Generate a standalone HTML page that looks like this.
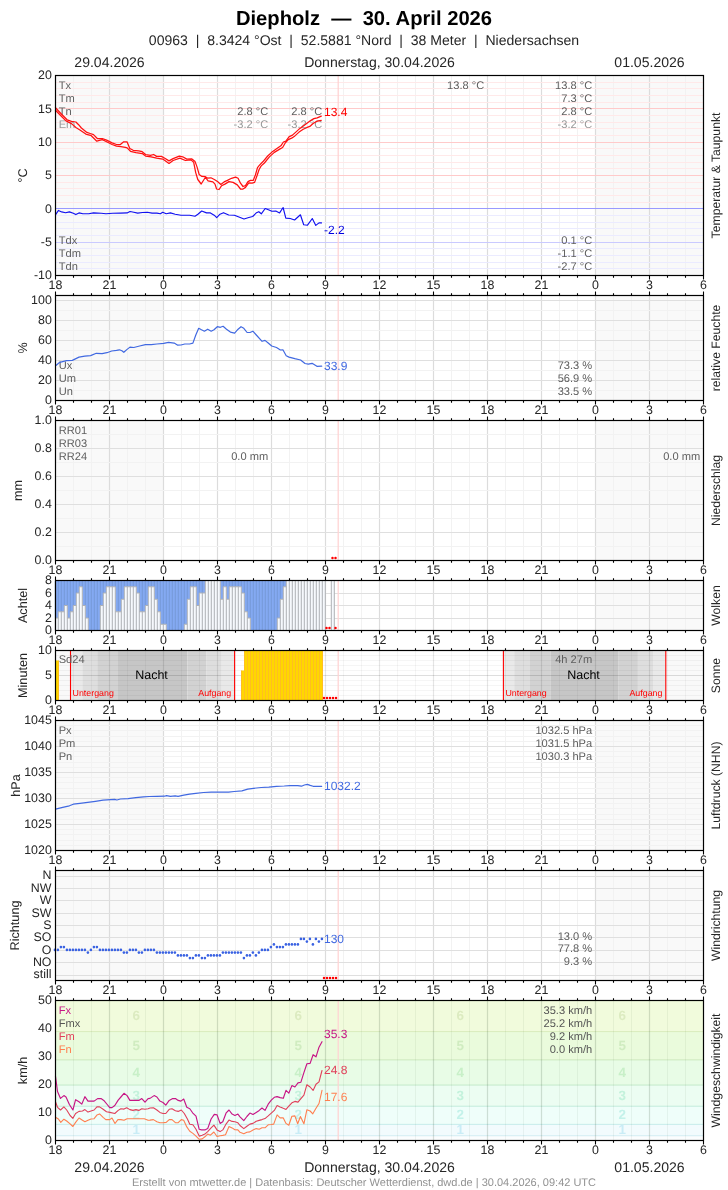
<!DOCTYPE html>
<html lang="de"><head><meta charset="utf-8"><title>Diepholz - 30. April 2026</title>
<style>html,body{margin:0;padding:0;background:#fff}body{width:728px;height:1190px;overflow:hidden;font-family:"Liberation Sans",sans-serif}svg{display:block;will-change:transform}</style>
</head><body>
<svg width="728" height="1190" viewBox="0 0 728 1190" font-family="Liberation Sans, sans-serif" text-rendering="geometricPrecision">
<rect width="728" height="1190" fill="#fff"/>
<text x="364.00" y="24.80" font-size="20.2" fill="#000" text-anchor="middle" font-weight="bold">Diepholz&#160;&#160;&#8212;&#160;&#160;30. April 2026</text>
<text x="364.00" y="45.20" font-size="14.05" fill="#262626" text-anchor="middle">00963&#160;&#160;|&#160;&#160;8.3424 &#176;Ost&#160;&#160;|&#160;&#160;52.5881 &#176;Nord&#160;&#160;|&#160;&#160;38 Meter&#160;&#160;|&#160;&#160;Niedersachsen</text>
<text x="109.50" y="67.00" font-size="14.05" fill="#262626" text-anchor="middle">29.04.2026</text>
<text x="379.50" y="67.00" font-size="14.05" fill="#262626" text-anchor="middle">Donnerstag, 30.04.2026</text>
<text x="649.50" y="67.00" font-size="14.05" fill="#262626" text-anchor="middle">01.05.2026</text>
<text x="109.50" y="1171.50" font-size="14.05" fill="#262626" text-anchor="middle">29.04.2026</text>
<text x="379.50" y="1171.50" font-size="14.05" fill="#262626" text-anchor="middle">Donnerstag, 30.04.2026</text>
<text x="649.50" y="1171.50" font-size="14.05" fill="#262626" text-anchor="middle">01.05.2026</text>
<text x="364.00" y="1185.80" font-size="11" fill="#929292" text-anchor="middle">Erstellt von mtwetter.de | Datenbasis: Deutscher Wetterdienst, dwd.de | 30.04.2026, 09:42 UTC</text>
<rect x="56" y="76" width="647" height="199" fill="#fff"/>
<rect x="56" y="76" width="107.5" height="199" fill="#f9f9f9"/>
<rect x="595.5" y="76" width="107.5" height="199" fill="#f9f9f9"/>
<path d="M73.5 76V275M91.5 76V275M127.5 76V275M145.5 76V275M181.5 76V275M199.5 76V275M235.5 76V275M253.5 76V275M289.5 76V275M307.5 76V275M343.5 76V275M361.5 76V275M397.5 76V275M415.5 76V275M451.5 76V275M469.5 76V275M505.5 76V275M523.5 76V275M559.5 76V275M577.5 76V275M613.5 76V275M631.5 76V275M667.5 76V275M685.5 76V275" stroke="#f2f2f2" stroke-width="1" stroke-opacity="1" fill="none"/>
<path d="M109.5 76V275M163.5 76V275M217.5 76V275M271.5 76V275M325.5 76V275M379.5 76V275M433.5 76V275M487.5 76V275M541.5 76V275M595.5 76V275M649.5 76V275" stroke="#dcdcdc" stroke-width="1.2" stroke-opacity="1" fill="none"/>
<path d="M56 202.5H703M56 195.5H703M56 188.5H703M56 182.5H703M56 168.5H703M56 162.5H703M56 155.5H703M56 148.5H703M56 135.5H703M56 128.5H703M56 122.5H703M56 115.5H703M56 102.5H703M56 95.5H703M56 88.5H703M56 82.5H703" stroke="#ffe9e9" stroke-width="1" stroke-opacity="1" fill="none"/>
<path d="M56 175.5H703M56 142.5H703M56 108.5H703" stroke="#ffcaca" stroke-width="1" stroke-opacity="1" fill="none"/>
<path d="M56 268.5H703M56 262.5H703M56 255.5H703M56 248.5H703M56 235.5H703M56 228.5H703M56 222.5H703M56 215.5H703" stroke="#ebebff" stroke-width="1" stroke-opacity="1" fill="none"/>
<path d="M56 242.5H703" stroke="#cacaff" stroke-width="1" stroke-opacity="1" fill="none"/>
<path d="M56 208.5H703" stroke="#9999ff" stroke-width="1" stroke-opacity="1" fill="none"/>
<path d="M338.2 76V275" stroke="#ffd2d2" stroke-width="1.25" fill="none"/>
<text x="58.70" y="88.70" font-size="11.1" fill="#5e5e5e" text-anchor="start">Tx</text>
<text x="58.70" y="101.70" font-size="11.1" fill="#5e5e5e" text-anchor="start">Tm</text>
<text x="58.70" y="114.70" font-size="11.1" fill="#5e5e5e" text-anchor="start">Tn</text>
<text x="58.70" y="127.70" font-size="11.1" fill="#999" text-anchor="start">Em</text>
<text x="58.70" y="243.70" font-size="11.1" fill="#5e5e5e" text-anchor="start">Tdx</text>
<text x="58.70" y="256.70" font-size="11.1" fill="#5e5e5e" text-anchor="start">Tdm</text>
<text x="58.70" y="269.70" font-size="11.1" fill="#5e5e5e" text-anchor="start">Tdn</text>
<text x="592.20" y="88.70" font-size="11.1" fill="#5e5e5e" text-anchor="end">13.8 &#176;C</text>
<text x="592.20" y="101.70" font-size="11.1" fill="#5e5e5e" text-anchor="end">7.3 &#176;C</text>
<text x="592.20" y="114.70" font-size="11.1" fill="#5e5e5e" text-anchor="end">2.8 &#176;C</text>
<text x="592.20" y="127.70" font-size="11.1" fill="#999" text-anchor="end">-3.2 &#176;C</text>
<text x="592.20" y="243.70" font-size="11.1" fill="#5e5e5e" text-anchor="end">0.1 &#176;C</text>
<text x="592.20" y="256.70" font-size="11.1" fill="#5e5e5e" text-anchor="end">-1.1 &#176;C</text>
<text x="592.20" y="269.70" font-size="11.1" fill="#5e5e5e" text-anchor="end">-2.7 &#176;C</text>
<text x="484.20" y="88.70" font-size="11.1" fill="#5e5e5e" text-anchor="end">13.8 &#176;C</text>
<text x="268.20" y="114.70" font-size="11.1" fill="#5e5e5e" text-anchor="end">2.8 &#176;C</text>
<text x="268.20" y="127.70" font-size="11.1" fill="#999" text-anchor="end">-3.2 &#176;C</text>
<text x="322.20" y="114.70" font-size="11.1" fill="#5e5e5e" text-anchor="end">2.8 &#176;C</text>
<text x="322.20" y="127.70" font-size="11.1" fill="#999" text-anchor="end">-3.2 &#176;C</text>
<path d="M55.5 107.8L61.6 114.3L67.1 119.8L71.5 121.4L75.9 122.0L78.6 124.7L81.4 128.0L86.9 132.4L90.2 133.5L93.5 134.6L97.3 138.5L102.3 138.5L106.6 140.1L112.1 142.9L116.5 144.5L120.4 144.5L123.7 141.8L127.0 141.8L129.8 148.5L133.2 150.3L138.7 150.9L142.2 151.7L145.6 154.5L150.4 155.4L153.6 154.5L156.6 156.4L161.4 156.4L164.8 158.2L169.0 160.9L173.1 158.6L179.3 156.1L182.7 156.8L186.8 159.1L191.6 158.8L195.1 161.6L197.1 167.1L199.2 174.6L201.9 176.4L205.4 176.7L207.4 178.1L210.9 177.8L214.3 179.5L217.5 181.6L220.8 184.4L224.1 181.9L227.4 180.4L231.5 178.3L235.6 177.1L238.1 178.3L240.5 183.2L243.0 186.5L245.5 185.7L248.0 181.6L250.4 180.4L253.2 180.4L255.4 175.0L257.5 167.6L259.5 165.1L262.8 161.8L267.7 156.0L272.7 151.4L277.6 148.1L280.9 145.8L283.4 142.0L285.9 141.2L289.2 136.6L292.5 135.1L295.8 132.1L299.9 128.4L304.0 125.5L307.3 123.1L310.6 120.6L313.9 118.6L317.2 117.8L321.3 116.2" stroke="#ff1010" stroke-width="1.25" stroke-opacity="1" fill="none" stroke-linejoin="round" stroke-linecap="round"/>
<path d="M55.5 110.3L61.6 116.5L66.0 120.9L71.5 123.6L75.9 127.5L80.3 130.2L85.8 134.1L91.3 135.7L96.8 141.2L102.3 139.6L106.6 141.8L112.1 144.5L116.5 146.2L120.9 146.7L125.3 147.3L127.1 147.9L130.5 151.3L136.0 152.7L142.2 153.6L145.6 156.1L151.1 156.8L156.6 158.2L162.8 159.1L169.0 163.4L173.1 160.5L179.9 158.2L185.4 160.5L190.9 159.9L193.7 162.3L195.7 172.6L197.8 179.5L201.2 184.0L204.0 179.5L205.4 177.4L208.1 180.8L212.9 181.9L215.0 184.1L216.6 189.0L219.1 189.5L221.6 185.7L224.9 184.1L229.0 181.6L233.1 182.4L237.3 184.9L240.5 189.0L243.0 189.0L245.5 187.4L248.8 182.9L252.1 183.2L254.6 182.4L257.0 175.8L259.2 169.2L261.2 165.9L264.4 163.0L269.4 156.9L274.3 152.4L279.3 149.4L282.6 147.5L285.1 143.2L288.3 139.6L291.6 138.2L294.9 135.9L299.1 132.1L303.2 129.3L306.5 127.7L309.8 126.4L313.1 123.6L316.4 121.4L321.3 120.3" stroke="#ff1010" stroke-width="1.25" stroke-opacity="1" fill="none" stroke-linejoin="round" stroke-linecap="round"/>
<path d="M55.6 214.6L58.5 210.4L61.7 211.9L65.6 212.7L69.4 211.9L73.3 213.3L75.8 214.6L79.0 212.9L82.9 213.7L88.7 213.7L93.5 212.9L101.2 213.3L106.0 213.8L112.7 213.3L120.4 213.1L127.1 212.9L130.0 211.5L133.8 212.3L137.7 213.1L142.5 212.5L147.3 212.3L152.1 213.1L156.9 213.1L160.4 213.7L162.7 212.3L166.2 213.7L170.4 212.9L175.2 214.2L181.0 215.2L189.6 215.2L195.0 216.2L197.9 214.2L201.7 211.0L206.5 212.9L210.4 212.9L214.2 215.2L216.7 217.7L220.0 214.2L223.5 212.7L228.7 215.0L234.4 215.2L240.2 217.5L244.0 219.0L248.8 217.5L252.7 216.5L256.5 212.7L258.8 211.7L261.3 213.8L265.2 208.5L269.0 210.0L271.9 211.3L275.8 211.0L279.6 212.9L283.1 207.5L285.8 218.1L290.2 218.5L294.6 220.0L300.4 214.8L303.7 224.8L307.5 225.2L312.3 218.5L315.8 225.4L319.0 222.9L321.5 222.9" stroke="#1010f0" stroke-width="1.15" stroke-opacity="1" fill="none" stroke-linejoin="round" stroke-linecap="round"/>
<text x="324.00" y="115.70" font-size="12" fill="#ff0000" text-anchor="start">13.4</text>
<text x="324.00" y="234.40" font-size="12" fill="#0000e0" text-anchor="start">-2.2</text>
<rect x="55.5" y="75.5" width="648" height="200" fill="none" stroke="#000" stroke-width="1.2"/>
<path d="M55.5 275.5v4.0M73.5 275.5v2.2M91.5 275.5v2.2M109.5 275.5v4.0M127.5 275.5v2.2M145.5 275.5v2.2M163.5 275.5v4.0M181.5 275.5v2.2M199.5 275.5v2.2M217.5 275.5v4.0M235.5 275.5v2.2M253.5 275.5v2.2M271.5 275.5v4.0M289.5 275.5v2.2M307.5 275.5v2.2M325.5 275.5v4.0M343.5 275.5v2.2M361.5 275.5v2.2M379.5 275.5v4.0M397.5 275.5v2.2M415.5 275.5v2.2M433.5 275.5v4.0M451.5 275.5v2.2M469.5 275.5v2.2M487.5 275.5v4.0M505.5 275.5v2.2M523.5 275.5v2.2M541.5 275.5v4.0M559.5 275.5v2.2M577.5 275.5v2.2M595.5 275.5v4.0M613.5 275.5v2.2M631.5 275.5v2.2M649.5 275.5v4.0M667.5 275.5v2.2M685.5 275.5v2.2M703.5 275.5v4.0" stroke="#000" stroke-width="1.1" fill="none"/>
<text x="55.50" y="289.20" font-size="12.4" fill="#262626" text-anchor="middle">18</text>
<text x="109.50" y="289.20" font-size="12.4" fill="#262626" text-anchor="middle">21</text>
<text x="163.50" y="289.20" font-size="12.4" fill="#262626" text-anchor="middle">0</text>
<text x="217.50" y="289.20" font-size="12.4" fill="#262626" text-anchor="middle">3</text>
<text x="271.50" y="289.20" font-size="12.4" fill="#262626" text-anchor="middle">6</text>
<text x="325.50" y="289.20" font-size="12.4" fill="#262626" text-anchor="middle">9</text>
<text x="379.50" y="289.20" font-size="12.4" fill="#262626" text-anchor="middle">12</text>
<text x="433.50" y="289.20" font-size="12.4" fill="#262626" text-anchor="middle">15</text>
<text x="487.50" y="289.20" font-size="12.4" fill="#262626" text-anchor="middle">18</text>
<text x="541.50" y="289.20" font-size="12.4" fill="#262626" text-anchor="middle">21</text>
<text x="595.50" y="289.20" font-size="12.4" fill="#262626" text-anchor="middle">0</text>
<text x="649.50" y="289.20" font-size="12.4" fill="#262626" text-anchor="middle">3</text>
<text x="703.50" y="289.20" font-size="12.4" fill="#262626" text-anchor="middle">6</text>
<text x="51.80" y="79.20" font-size="12.4" fill="#262626" text-anchor="end">20</text>
<text x="51.80" y="112.53" font-size="12.4" fill="#262626" text-anchor="end">15</text>
<text x="51.80" y="145.87" font-size="12.4" fill="#262626" text-anchor="end">10</text>
<text x="51.80" y="179.20" font-size="12.4" fill="#262626" text-anchor="end">5</text>
<text x="51.80" y="212.53" font-size="12.4" fill="#262626" text-anchor="end">0</text>
<text x="51.80" y="245.87" font-size="12.4" fill="#262626" text-anchor="end">-5</text>
<text x="51.80" y="279.20" font-size="12.4" fill="#262626" text-anchor="end">-10</text>
<text transform="translate(27.20,175.50) rotate(-90)" font-size="12.64" fill="#262626" text-anchor="middle">&#176;C</text>
<text transform="translate(719.60,175.50) rotate(-90)" font-size="12.2" fill="#262626" text-anchor="middle">Temperatur &amp; Taupunkt</text>
<rect x="56" y="296" width="647" height="104" fill="#fff"/>
<rect x="56" y="296" width="107.5" height="104" fill="#f9f9f9"/>
<rect x="595.5" y="296" width="107.5" height="104" fill="#f9f9f9"/>
<path d="M73.5 296V400M91.5 296V400M127.5 296V400M145.5 296V400M181.5 296V400M199.5 296V400M235.5 296V400M253.5 296V400M289.5 296V400M307.5 296V400M343.5 296V400M361.5 296V400M397.5 296V400M415.5 296V400M451.5 296V400M469.5 296V400M505.5 296V400M523.5 296V400M559.5 296V400M577.5 296V400M613.5 296V400M631.5 296V400M667.5 296V400M685.5 296V400" stroke="#f2f2f2" stroke-width="1" stroke-opacity="1" fill="none"/>
<path d="M109.5 296V400M163.5 296V400M217.5 296V400M271.5 296V400M325.5 296V400M379.5 296V400M433.5 296V400M487.5 296V400M541.5 296V400M595.5 296V400M649.5 296V400" stroke="#dcdcdc" stroke-width="1.2" stroke-opacity="1" fill="none"/>
<path d="M56 390.5H703M56 370.5H703M56 350.5H703M56 330.5H703M56 310.5H703" stroke="#f2f2f2" stroke-width="1" stroke-opacity="1" fill="none"/>
<path d="M56 380.5H703M56 360.5H703M56 340.5H703M56 320.5H703M56 300.5H703" stroke="#dfdfdf" stroke-width="1" stroke-opacity="1" fill="none"/>
<path d="M338.2 296V400" stroke="#ffd2d2" stroke-width="1.25" fill="none"/>
<text x="58.70" y="368.70" font-size="11.1" fill="#5e5e5e" text-anchor="start">Ux</text>
<text x="58.70" y="381.70" font-size="11.1" fill="#5e5e5e" text-anchor="start">Um</text>
<text x="58.70" y="394.70" font-size="11.1" fill="#5e5e5e" text-anchor="start">Un</text>
<text x="592.20" y="368.70" font-size="11.1" fill="#5e5e5e" text-anchor="end">73.3 %</text>
<text x="592.20" y="381.70" font-size="11.1" fill="#5e5e5e" text-anchor="end">56.9 %</text>
<text x="592.20" y="394.70" font-size="11.1" fill="#5e5e5e" text-anchor="end">33.5 %</text>
<path d="M55.6 365.8L59.8 362.3L66.5 360.6L72.3 360.4L79.0 357.1L84.8 356.2L90.6 355.6L96.3 353.3L102.1 353.7L106.9 352.7L111.7 351.0L116.5 350.4L119.4 349.8L121.9 350.8L123.8 352.3L127.1 349.4L130.0 347.1L133.8 347.5L139.6 346.0L145.4 344.6L151.2 344.6L156.9 344.0L163.7 343.3L168.5 342.3L174.2 343.1L177.7 345.2L181.0 345.0L184.8 344.0L189.6 344.0L192.9 343.1L195.8 335.0L198.7 328.3L201.5 329.8L204.4 331.2L207.7 329.2L211.2 331.2L214.0 329.8L217.3 326.7L220.4 327.3L223.1 326.3L226.5 329.2L230.4 332.1L234.6 333.1L238.1 329.2L241.0 326.7L243.8 328.3L247.1 332.5L250.0 332.5L252.9 331.2L256.3 335.0L262.1 341.3L265.0 340.4L267.9 342.7L271.7 346.0L276.5 347.5L280.4 350.0L282.9 349.8L286.2 355.8L289.0 357.1L294.8 358.7L300.6 360.0L305.0 363.5L308.3 364.2L312.1 363.3L316.9 366.3L321.7 366.2" stroke="#4169e1" stroke-width="1.2" stroke-opacity="1" fill="none" stroke-linejoin="round" stroke-linecap="round"/>
<text x="324.00" y="370.30" font-size="12" fill="#4169e1" text-anchor="start">33.9</text>
<rect x="55.5" y="295.5" width="648" height="105" fill="none" stroke="#000" stroke-width="1.2"/>
<path d="M55.5 400.5v4.0M55.5 295.5v-4.0M73.5 400.5v2.2M73.5 295.5v-2.2M91.5 400.5v2.2M91.5 295.5v-2.2M109.5 400.5v4.0M109.5 295.5v-4.0M127.5 400.5v2.2M127.5 295.5v-2.2M145.5 400.5v2.2M145.5 295.5v-2.2M163.5 400.5v4.0M163.5 295.5v-4.0M181.5 400.5v2.2M181.5 295.5v-2.2M199.5 400.5v2.2M199.5 295.5v-2.2M217.5 400.5v4.0M217.5 295.5v-4.0M235.5 400.5v2.2M235.5 295.5v-2.2M253.5 400.5v2.2M253.5 295.5v-2.2M271.5 400.5v4.0M271.5 295.5v-4.0M289.5 400.5v2.2M289.5 295.5v-2.2M307.5 400.5v2.2M307.5 295.5v-2.2M325.5 400.5v4.0M325.5 295.5v-4.0M343.5 400.5v2.2M343.5 295.5v-2.2M361.5 400.5v2.2M361.5 295.5v-2.2M379.5 400.5v4.0M379.5 295.5v-4.0M397.5 400.5v2.2M397.5 295.5v-2.2M415.5 400.5v2.2M415.5 295.5v-2.2M433.5 400.5v4.0M433.5 295.5v-4.0M451.5 400.5v2.2M451.5 295.5v-2.2M469.5 400.5v2.2M469.5 295.5v-2.2M487.5 400.5v4.0M487.5 295.5v-4.0M505.5 400.5v2.2M505.5 295.5v-2.2M523.5 400.5v2.2M523.5 295.5v-2.2M541.5 400.5v4.0M541.5 295.5v-4.0M559.5 400.5v2.2M559.5 295.5v-2.2M577.5 400.5v2.2M577.5 295.5v-2.2M595.5 400.5v4.0M595.5 295.5v-4.0M613.5 400.5v2.2M613.5 295.5v-2.2M631.5 400.5v2.2M631.5 295.5v-2.2M649.5 400.5v4.0M649.5 295.5v-4.0M667.5 400.5v2.2M667.5 295.5v-2.2M685.5 400.5v2.2M685.5 295.5v-2.2M703.5 400.5v4.0M703.5 295.5v-4.0" stroke="#000" stroke-width="1.1" fill="none"/>
<text x="55.50" y="414.20" font-size="12.4" fill="#262626" text-anchor="middle">18</text>
<text x="109.50" y="414.20" font-size="12.4" fill="#262626" text-anchor="middle">21</text>
<text x="163.50" y="414.20" font-size="12.4" fill="#262626" text-anchor="middle">0</text>
<text x="217.50" y="414.20" font-size="12.4" fill="#262626" text-anchor="middle">3</text>
<text x="271.50" y="414.20" font-size="12.4" fill="#262626" text-anchor="middle">6</text>
<text x="325.50" y="414.20" font-size="12.4" fill="#262626" text-anchor="middle">9</text>
<text x="379.50" y="414.20" font-size="12.4" fill="#262626" text-anchor="middle">12</text>
<text x="433.50" y="414.20" font-size="12.4" fill="#262626" text-anchor="middle">15</text>
<text x="487.50" y="414.20" font-size="12.4" fill="#262626" text-anchor="middle">18</text>
<text x="541.50" y="414.20" font-size="12.4" fill="#262626" text-anchor="middle">21</text>
<text x="595.50" y="414.20" font-size="12.4" fill="#262626" text-anchor="middle">0</text>
<text x="649.50" y="414.20" font-size="12.4" fill="#262626" text-anchor="middle">3</text>
<text x="703.50" y="414.20" font-size="12.4" fill="#262626" text-anchor="middle">6</text>
<text x="51.80" y="404.20" font-size="12.4" fill="#262626" text-anchor="end">0</text>
<text x="51.80" y="384.20" font-size="12.4" fill="#262626" text-anchor="end">20</text>
<text x="51.80" y="364.20" font-size="12.4" fill="#262626" text-anchor="end">40</text>
<text x="51.80" y="344.20" font-size="12.4" fill="#262626" text-anchor="end">60</text>
<text x="51.80" y="324.20" font-size="12.4" fill="#262626" text-anchor="end">80</text>
<text x="51.80" y="304.20" font-size="12.4" fill="#262626" text-anchor="end">100</text>
<text transform="translate(27.20,348.00) rotate(-90)" font-size="12.64" fill="#262626" text-anchor="middle">%</text>
<text transform="translate(719.60,348.00) rotate(-90)" font-size="12.2" fill="#262626" text-anchor="middle">relative Feuchte</text>
<rect x="56" y="421" width="647" height="139" fill="#fff"/>
<rect x="56" y="421" width="107.5" height="139" fill="#f9f9f9"/>
<rect x="595.5" y="421" width="107.5" height="139" fill="#f9f9f9"/>
<path d="M73.5 421V560M91.5 421V560M127.5 421V560M145.5 421V560M181.5 421V560M199.5 421V560M235.5 421V560M253.5 421V560M289.5 421V560M307.5 421V560M343.5 421V560M361.5 421V560M397.5 421V560M415.5 421V560M451.5 421V560M469.5 421V560M505.5 421V560M523.5 421V560M559.5 421V560M577.5 421V560M613.5 421V560M631.5 421V560M667.5 421V560M685.5 421V560" stroke="#f2f2f2" stroke-width="1" stroke-opacity="1" fill="none"/>
<path d="M109.5 421V560M163.5 421V560M217.5 421V560M271.5 421V560M325.5 421V560M379.5 421V560M433.5 421V560M487.5 421V560M541.5 421V560M595.5 421V560M649.5 421V560" stroke="#dcdcdc" stroke-width="1.2" stroke-opacity="1" fill="none"/>
<path d="M56 546.5H703M56 518.5H703M56 490.5H703M56 462.5H703M56 434.5H703" stroke="#f2f2f2" stroke-width="1" stroke-opacity="1" fill="none"/>
<path d="M56 532.5H703M56 504.5H703M56 476.5H703M56 448.5H703" stroke="#dfdfdf" stroke-width="1" stroke-opacity="1" fill="none"/>
<path d="M338.2 421V560" stroke="#ffd2d2" stroke-width="1.25" fill="none"/>
<text x="58.70" y="433.70" font-size="11.1" fill="#5e5e5e" text-anchor="start">RR01</text>
<text x="58.70" y="446.70" font-size="11.1" fill="#5e5e5e" text-anchor="start">RR03</text>
<text x="58.70" y="459.70" font-size="11.1" fill="#5e5e5e" text-anchor="start">RR24</text>
<text x="268.20" y="459.70" font-size="11.1" fill="#5e5e5e" text-anchor="end">0.0 mm</text>
<text x="700.20" y="459.70" font-size="11.1" fill="#5e5e5e" text-anchor="end">0.0 mm</text>
<circle cx="332.5" cy="558" r="1.25" fill="#ff0000"/>
<circle cx="335.5" cy="558" r="1.25" fill="#ff0000"/>
<rect x="55.5" y="420.5" width="648" height="140" fill="none" stroke="#000" stroke-width="1.2"/>
<path d="M55.5 560.5v4.0M55.5 420.5v-4.0M73.5 560.5v2.2M73.5 420.5v-2.2M91.5 560.5v2.2M91.5 420.5v-2.2M109.5 560.5v4.0M109.5 420.5v-4.0M127.5 560.5v2.2M127.5 420.5v-2.2M145.5 560.5v2.2M145.5 420.5v-2.2M163.5 560.5v4.0M163.5 420.5v-4.0M181.5 560.5v2.2M181.5 420.5v-2.2M199.5 560.5v2.2M199.5 420.5v-2.2M217.5 560.5v4.0M217.5 420.5v-4.0M235.5 560.5v2.2M235.5 420.5v-2.2M253.5 560.5v2.2M253.5 420.5v-2.2M271.5 560.5v4.0M271.5 420.5v-4.0M289.5 560.5v2.2M289.5 420.5v-2.2M307.5 560.5v2.2M307.5 420.5v-2.2M325.5 560.5v4.0M325.5 420.5v-4.0M343.5 560.5v2.2M343.5 420.5v-2.2M361.5 560.5v2.2M361.5 420.5v-2.2M379.5 560.5v4.0M379.5 420.5v-4.0M397.5 560.5v2.2M397.5 420.5v-2.2M415.5 560.5v2.2M415.5 420.5v-2.2M433.5 560.5v4.0M433.5 420.5v-4.0M451.5 560.5v2.2M451.5 420.5v-2.2M469.5 560.5v2.2M469.5 420.5v-2.2M487.5 560.5v4.0M487.5 420.5v-4.0M505.5 560.5v2.2M505.5 420.5v-2.2M523.5 560.5v2.2M523.5 420.5v-2.2M541.5 560.5v4.0M541.5 420.5v-4.0M559.5 560.5v2.2M559.5 420.5v-2.2M577.5 560.5v2.2M577.5 420.5v-2.2M595.5 560.5v4.0M595.5 420.5v-4.0M613.5 560.5v2.2M613.5 420.5v-2.2M631.5 560.5v2.2M631.5 420.5v-2.2M649.5 560.5v4.0M649.5 420.5v-4.0M667.5 560.5v2.2M667.5 420.5v-2.2M685.5 560.5v2.2M685.5 420.5v-2.2M703.5 560.5v4.0M703.5 420.5v-4.0" stroke="#000" stroke-width="1.1" fill="none"/>
<text x="55.50" y="574.20" font-size="12.4" fill="#262626" text-anchor="middle">18</text>
<text x="109.50" y="574.20" font-size="12.4" fill="#262626" text-anchor="middle">21</text>
<text x="163.50" y="574.20" font-size="12.4" fill="#262626" text-anchor="middle">0</text>
<text x="217.50" y="574.20" font-size="12.4" fill="#262626" text-anchor="middle">3</text>
<text x="271.50" y="574.20" font-size="12.4" fill="#262626" text-anchor="middle">6</text>
<text x="325.50" y="574.20" font-size="12.4" fill="#262626" text-anchor="middle">9</text>
<text x="379.50" y="574.20" font-size="12.4" fill="#262626" text-anchor="middle">12</text>
<text x="433.50" y="574.20" font-size="12.4" fill="#262626" text-anchor="middle">15</text>
<text x="487.50" y="574.20" font-size="12.4" fill="#262626" text-anchor="middle">18</text>
<text x="541.50" y="574.20" font-size="12.4" fill="#262626" text-anchor="middle">21</text>
<text x="595.50" y="574.20" font-size="12.4" fill="#262626" text-anchor="middle">0</text>
<text x="649.50" y="574.20" font-size="12.4" fill="#262626" text-anchor="middle">3</text>
<text x="703.50" y="574.20" font-size="12.4" fill="#262626" text-anchor="middle">6</text>
<text x="51.80" y="564.20" font-size="12.4" fill="#262626" text-anchor="end">0.0</text>
<text x="51.80" y="536.20" font-size="12.4" fill="#262626" text-anchor="end">0.2</text>
<text x="51.80" y="508.20" font-size="12.4" fill="#262626" text-anchor="end">0.4</text>
<text x="51.80" y="480.20" font-size="12.4" fill="#262626" text-anchor="end">0.6</text>
<text x="51.80" y="452.20" font-size="12.4" fill="#262626" text-anchor="end">0.8</text>
<text x="51.80" y="424.20" font-size="12.4" fill="#262626" text-anchor="end">1.0</text>
<text transform="translate(21.80,490.50) rotate(-90)" font-size="12.64" fill="#262626" text-anchor="middle">mm</text>
<text transform="translate(719.60,490.50) rotate(-90)" font-size="12.2" fill="#262626" text-anchor="middle">Niederschlag</text>
<rect x="56" y="581" width="647" height="49" fill="#fff"/>
<rect x="56" y="581" width="107.5" height="49" fill="#f9f9f9"/>
<rect x="595.5" y="581" width="107.5" height="49" fill="#f9f9f9"/>
<path d="M73.5 581V630M91.5 581V630M127.5 581V630M145.5 581V630M181.5 581V630M199.5 581V630M235.5 581V630M253.5 581V630M289.5 581V630M307.5 581V630M343.5 581V630M361.5 581V630M397.5 581V630M415.5 581V630M451.5 581V630M469.5 581V630M505.5 581V630M523.5 581V630M559.5 581V630M577.5 581V630M613.5 581V630M631.5 581V630M667.5 581V630M685.5 581V630" stroke="#f2f2f2" stroke-width="1" stroke-opacity="1" fill="none"/>
<path d="M109.5 581V630M163.5 581V630M217.5 581V630M271.5 581V630M325.5 581V630M379.5 581V630M433.5 581V630M487.5 581V630M541.5 581V630M595.5 581V630M649.5 581V630" stroke="#dcdcdc" stroke-width="1.2" stroke-opacity="1" fill="none"/>
<path d="M56 618.5H703M56 605.5H703M56 593.5H703" stroke="#dfdfdf" stroke-width="1" stroke-opacity="1" fill="none"/>
<path d="M338.2 581V630" stroke="#ffd2d2" stroke-width="1.25" fill="none"/>
<path d="M55.3 581H58.3V618.00H55.3zM58.3 581H61.3V611.75H58.3zM61.3 581H64.3V611.75H61.3zM64.3 581H67.3V605.50H64.3zM67.3 581H70.3V618.00H67.3zM70.3 581H73.3V611.75H70.3zM73.3 581H76.3V605.50H73.3zM76.3 581H79.3V593.00H76.3zM79.3 581H82.3V586.75H79.3zM82.3 581H85.3V605.50H82.3zM85.3 581H88.3V618.00H85.3zM88.3 581H91.3V630.50H88.3zM91.3 581H94.3V630.50H91.3zM94.3 581H97.3V630.50H94.3zM97.3 581H100.3V630.50H97.3zM100.3 581H103.3V605.50H100.3zM103.3 581H106.3V593.00H103.3zM106.3 581H109.3V586.75H106.3zM109.3 581H112.3V586.75H109.3zM112.3 581H115.3V586.75H112.3zM115.3 581H118.3V611.75H115.3zM118.3 581H121.3V611.75H118.3zM121.3 581H124.3V599.25H121.3zM124.3 581H127.3V586.75H124.3zM127.3 581H130.3V586.75H127.3zM130.3 581H133.3V586.75H130.3zM133.3 581H136.3V586.75H133.3zM136.3 581H139.3V593.00H136.3zM139.3 581H142.3V611.75H139.3zM142.3 581H145.3V611.75H142.3zM145.3 581H148.3V605.50H145.3zM148.3 581H151.3V586.75H148.3zM151.3 581H154.3V586.75H151.3zM154.3 581H157.3V599.25H154.3zM157.3 581H160.3V611.75H157.3zM160.3 581H163.3V624.25H160.3zM163.3 581H166.3V624.25H163.3zM166.3 581H169.3V630.50H166.3zM169.3 581H172.3V630.50H169.3zM172.3 581H175.3V630.50H172.3zM175.3 581H178.3V630.50H175.3zM178.3 581H181.3V630.50H178.3zM181.3 581H184.3V630.50H181.3zM184.3 581H187.3V624.25H184.3zM187.3 581H190.3V599.25H187.3zM190.3 581H193.3V586.75H190.3zM193.3 581H196.3V586.75H193.3zM196.3 581H199.3V605.50H196.3zM199.3 581H202.3V593.00H199.3zM202.3 581H205.3V593.00H202.3zM220.3 581H223.3V599.25H220.3zM223.3 581H226.3V586.75H223.3zM226.3 581H229.3V599.25H226.3zM229.3 581H232.3V586.75H229.3zM232.3 581H235.3V586.75H232.3zM235.3 581H238.3V586.75H235.3zM238.3 581H241.3V586.75H238.3zM241.3 581H244.3V593.00H241.3zM244.3 581H247.3V611.75H244.3zM247.3 581H250.3V618.00H247.3zM250.3 581H253.3V630.50H250.3zM253.3 581H256.3V630.50H253.3zM256.3 581H259.3V630.50H256.3zM259.3 581H262.3V630.50H259.3zM262.3 581H265.3V630.50H262.3zM265.3 581H268.3V630.50H265.3zM268.3 581H271.3V630.50H268.3zM271.3 581H274.3V630.50H271.3zM274.3 581H277.3V630.50H274.3zM277.3 581H280.3V618.00H277.3zM280.3 581H283.3V599.25H280.3zM283.3 581H286.3V586.75H283.3z" fill="#84a9f2"/>
<path d="M55.3 618.00H58.3V630H55.3zM58.3 611.75H61.3V630H58.3zM61.3 611.75H64.3V630H61.3zM64.3 605.50H67.3V630H64.3zM67.3 618.00H70.3V630H67.3zM70.3 611.75H73.3V630H70.3zM73.3 605.50H76.3V630H73.3zM76.3 593.00H79.3V630H76.3zM79.3 586.75H82.3V630H79.3zM82.3 605.50H85.3V630H82.3zM85.3 618.00H88.3V630H85.3zM100.3 605.50H103.3V630H100.3zM103.3 593.00H106.3V630H103.3zM106.3 586.75H109.3V630H106.3zM109.3 586.75H112.3V630H109.3zM112.3 586.75H115.3V630H112.3zM115.3 611.75H118.3V630H115.3zM118.3 611.75H121.3V630H118.3zM121.3 599.25H124.3V630H121.3zM124.3 586.75H127.3V630H124.3zM127.3 586.75H130.3V630H127.3zM130.3 586.75H133.3V630H130.3zM133.3 586.75H136.3V630H133.3zM136.3 593.00H139.3V630H136.3zM139.3 611.75H142.3V630H139.3zM142.3 611.75H145.3V630H142.3zM145.3 605.50H148.3V630H145.3zM148.3 586.75H151.3V630H148.3zM151.3 586.75H154.3V630H151.3zM154.3 599.25H157.3V630H154.3zM157.3 611.75H160.3V630H157.3zM160.3 624.25H163.3V630H160.3zM163.3 624.25H166.3V630H163.3zM184.3 624.25H187.3V630H184.3zM187.3 599.25H190.3V630H187.3zM190.3 586.75H193.3V630H190.3zM193.3 586.75H196.3V630H193.3zM196.3 605.50H199.3V630H196.3zM199.3 593.00H202.3V630H199.3zM202.3 593.00H205.3V630H202.3zM205.3 580.50H208.3V630H205.3zM208.3 580.50H211.3V630H208.3zM211.3 580.50H214.3V630H211.3zM214.3 580.50H217.3V630H214.3zM217.3 580.50H220.3V630H217.3zM220.3 599.25H223.3V630H220.3zM223.3 586.75H226.3V630H223.3zM226.3 599.25H229.3V630H226.3zM229.3 586.75H232.3V630H229.3zM232.3 586.75H235.3V630H232.3zM235.3 586.75H238.3V630H235.3zM238.3 586.75H241.3V630H238.3zM241.3 593.00H244.3V630H241.3zM244.3 611.75H247.3V630H244.3zM247.3 618.00H250.3V630H247.3zM277.3 618.00H280.3V630H277.3zM280.3 599.25H283.3V630H280.3zM283.3 586.75H286.3V630H283.3zM286.3 580.50H289.3V630H286.3zM289.3 580.50H292.3V630H289.3zM292.3 580.50H295.3V630H292.3zM295.3 580.50H298.3V630H295.3zM298.3 580.50H301.3V630H298.3zM301.3 580.50H304.3V630H301.3zM304.3 580.50H307.3V630H304.3zM307.3 580.50H310.3V630H307.3zM310.3 580.50H313.3V630H310.3zM313.3 580.50H316.3V630H313.3zM316.3 580.50H319.3V630H316.3zM319.3 580.50H322.3V630H319.3zM322.3 580.50H325.3V630H322.3zM331.3 580.50H334.3V630H331.3z" fill="#f6f9fd"/>
<path d="M55.3 581V618.00M58.3 581V611.75M61.3 581V611.75M64.3 581V605.50M67.3 581V605.50M70.3 581V611.75M73.3 581V605.50M76.3 581V593.00M79.3 581V586.75M82.3 581V586.75M85.3 581V605.50M88.3 581V618.00M91.3 581V630.50M94.3 581V630.50M97.3 581V630.50M100.3 581V605.50M103.3 581V593.00M106.3 581V586.75M109.3 581V586.75M112.3 581V586.75M115.3 581V586.75M118.3 581V611.75M121.3 581V599.25M124.3 581V586.75M127.3 581V586.75M130.3 581V586.75M133.3 581V586.75M136.3 581V586.75M139.3 581V593.00M142.3 581V611.75M145.3 581V605.50M148.3 581V586.75M151.3 581V586.75M154.3 581V586.75M157.3 581V599.25M160.3 581V611.75M163.3 581V624.25M166.3 581V624.25M169.3 581V630.50M172.3 581V630.50M175.3 581V630.50M178.3 581V630.50M181.3 581V630.50M184.3 581V624.25M187.3 581V599.25M190.3 581V586.75M193.3 581V586.75M196.3 581V586.75M199.3 581V593.00M202.3 581V593.00M223.3 581V586.75M226.3 581V586.75M229.3 581V586.75M232.3 581V586.75M235.3 581V586.75M238.3 581V586.75M241.3 581V586.75M244.3 581V593.00M247.3 581V611.75M250.3 581V618.00M253.3 581V630.50M256.3 581V630.50M259.3 581V630.50M262.3 581V630.50M265.3 581V630.50M268.3 581V630.50M271.3 581V630.50M274.3 581V630.50M277.3 581V618.00M280.3 581V599.25M283.3 581V586.75" stroke="#7699d8" stroke-width="1" fill="none"/>
<path d="M55.3 618.00V630M58.3 611.75V630M61.3 611.75V630M64.3 605.50V630M67.3 605.50V630M70.3 611.75V630M73.3 605.50V630M76.3 593.00V630M79.3 586.75V630M82.3 586.75V630M85.3 605.50V630M88.3 618.00V630M100.3 605.50V630M103.3 593.00V630M106.3 586.75V630M109.3 586.75V630M112.3 586.75V630M115.3 586.75V630M118.3 611.75V630M121.3 599.25V630M124.3 586.75V630M127.3 586.75V630M130.3 586.75V630M133.3 586.75V630M136.3 586.75V630M139.3 593.00V630M142.3 611.75V630M145.3 605.50V630M148.3 586.75V630M151.3 586.75V630M154.3 586.75V630M157.3 599.25V630M160.3 611.75V630M163.3 624.25V630M166.3 624.25V630M184.3 624.25V630M187.3 599.25V630M190.3 586.75V630M193.3 586.75V630M196.3 586.75V630M199.3 593.00V630M202.3 593.00V630M205.3 580.50V630M208.3 580.50V630M211.3 580.50V630M214.3 580.50V630M217.3 580.50V630M220.3 580.50V630M223.3 586.75V630M226.3 586.75V630M229.3 586.75V630M232.3 586.75V630M235.3 586.75V630M238.3 586.75V630M241.3 586.75V630M244.3 593.00V630M247.3 611.75V630M250.3 618.00V630M277.3 618.00V630M280.3 599.25V630M283.3 586.75V630M286.3 580.50V630M289.3 580.50V630M292.3 580.50V630M295.3 580.50V630M298.3 580.50V630M301.3 580.50V630M304.3 580.50V630M307.3 580.50V630M310.3 580.50V630M313.3 580.50V630M316.3 580.50V630M319.3 580.50V630M322.3 580.50V630M325.3 580.50V630M331.3 580.50V630M334.3 580.50V630M55.3 618.00H58.3M58.3 611.75H61.3M61.3 611.75H64.3M64.3 605.50H67.3M67.3 618.00H70.3M70.3 611.75H73.3M73.3 605.50H76.3M76.3 593.00H79.3M79.3 586.75H82.3M82.3 605.50H85.3M85.3 618.00H88.3M100.3 605.50H103.3M103.3 593.00H106.3M106.3 586.75H109.3M109.3 586.75H112.3M112.3 586.75H115.3M115.3 611.75H118.3M118.3 611.75H121.3M121.3 599.25H124.3M124.3 586.75H127.3M127.3 586.75H130.3M130.3 586.75H133.3M133.3 586.75H136.3M136.3 593.00H139.3M139.3 611.75H142.3M142.3 611.75H145.3M145.3 605.50H148.3M148.3 586.75H151.3M151.3 586.75H154.3M154.3 599.25H157.3M157.3 611.75H160.3M160.3 624.25H163.3M163.3 624.25H166.3M184.3 624.25H187.3M187.3 599.25H190.3M190.3 586.75H193.3M193.3 586.75H196.3M196.3 605.50H199.3M199.3 593.00H202.3M202.3 593.00H205.3M205.3 580.50H208.3M208.3 580.50H211.3M211.3 580.50H214.3M214.3 580.50H217.3M217.3 580.50H220.3M220.3 599.25H223.3M223.3 586.75H226.3M226.3 599.25H229.3M229.3 586.75H232.3M232.3 586.75H235.3M235.3 586.75H238.3M238.3 586.75H241.3M241.3 593.00H244.3M244.3 611.75H247.3M247.3 618.00H250.3M277.3 618.00H280.3M280.3 599.25H283.3M283.3 586.75H286.3M286.3 580.50H289.3M289.3 580.50H292.3M292.3 580.50H295.3M295.3 580.50H298.3M298.3 580.50H301.3M301.3 580.50H304.3M304.3 580.50H307.3M307.3 580.50H310.3M310.3 580.50H313.3M313.3 580.50H316.3M316.3 580.50H319.3M319.3 580.50H322.3M322.3 580.50H325.3M331.3 580.50H334.3" stroke="#aeb1b5" stroke-width="1" fill="none"/>
<circle cx="326.5" cy="628" r="1.25" fill="#ff0000"/>
<circle cx="329.5" cy="628" r="1.25" fill="#ff0000"/>
<circle cx="335.5" cy="628" r="1.25" fill="#ff0000"/>
<rect x="55.5" y="580.5" width="648" height="50" fill="none" stroke="#000" stroke-width="1.2"/>
<path d="M55.5 630.5v4.0M55.5 580.5v-4.0M73.5 630.5v2.2M73.5 580.5v-2.2M91.5 630.5v2.2M91.5 580.5v-2.2M109.5 630.5v4.0M109.5 580.5v-4.0M127.5 630.5v2.2M127.5 580.5v-2.2M145.5 630.5v2.2M145.5 580.5v-2.2M163.5 630.5v4.0M163.5 580.5v-4.0M181.5 630.5v2.2M181.5 580.5v-2.2M199.5 630.5v2.2M199.5 580.5v-2.2M217.5 630.5v4.0M217.5 580.5v-4.0M235.5 630.5v2.2M235.5 580.5v-2.2M253.5 630.5v2.2M253.5 580.5v-2.2M271.5 630.5v4.0M271.5 580.5v-4.0M289.5 630.5v2.2M289.5 580.5v-2.2M307.5 630.5v2.2M307.5 580.5v-2.2M325.5 630.5v4.0M325.5 580.5v-4.0M343.5 630.5v2.2M343.5 580.5v-2.2M361.5 630.5v2.2M361.5 580.5v-2.2M379.5 630.5v4.0M379.5 580.5v-4.0M397.5 630.5v2.2M397.5 580.5v-2.2M415.5 630.5v2.2M415.5 580.5v-2.2M433.5 630.5v4.0M433.5 580.5v-4.0M451.5 630.5v2.2M451.5 580.5v-2.2M469.5 630.5v2.2M469.5 580.5v-2.2M487.5 630.5v4.0M487.5 580.5v-4.0M505.5 630.5v2.2M505.5 580.5v-2.2M523.5 630.5v2.2M523.5 580.5v-2.2M541.5 630.5v4.0M541.5 580.5v-4.0M559.5 630.5v2.2M559.5 580.5v-2.2M577.5 630.5v2.2M577.5 580.5v-2.2M595.5 630.5v4.0M595.5 580.5v-4.0M613.5 630.5v2.2M613.5 580.5v-2.2M631.5 630.5v2.2M631.5 580.5v-2.2M649.5 630.5v4.0M649.5 580.5v-4.0M667.5 630.5v2.2M667.5 580.5v-2.2M685.5 630.5v2.2M685.5 580.5v-2.2M703.5 630.5v4.0M703.5 580.5v-4.0" stroke="#000" stroke-width="1.1" fill="none"/>
<text x="55.50" y="644.20" font-size="12.4" fill="#262626" text-anchor="middle">18</text>
<text x="109.50" y="644.20" font-size="12.4" fill="#262626" text-anchor="middle">21</text>
<text x="163.50" y="644.20" font-size="12.4" fill="#262626" text-anchor="middle">0</text>
<text x="217.50" y="644.20" font-size="12.4" fill="#262626" text-anchor="middle">3</text>
<text x="271.50" y="644.20" font-size="12.4" fill="#262626" text-anchor="middle">6</text>
<text x="325.50" y="644.20" font-size="12.4" fill="#262626" text-anchor="middle">9</text>
<text x="379.50" y="644.20" font-size="12.4" fill="#262626" text-anchor="middle">12</text>
<text x="433.50" y="644.20" font-size="12.4" fill="#262626" text-anchor="middle">15</text>
<text x="487.50" y="644.20" font-size="12.4" fill="#262626" text-anchor="middle">18</text>
<text x="541.50" y="644.20" font-size="12.4" fill="#262626" text-anchor="middle">21</text>
<text x="595.50" y="644.20" font-size="12.4" fill="#262626" text-anchor="middle">0</text>
<text x="649.50" y="644.20" font-size="12.4" fill="#262626" text-anchor="middle">3</text>
<text x="703.50" y="644.20" font-size="12.4" fill="#262626" text-anchor="middle">6</text>
<text x="51.80" y="634.20" font-size="12.4" fill="#262626" text-anchor="end">0</text>
<text x="51.80" y="621.70" font-size="12.4" fill="#262626" text-anchor="end">2</text>
<text x="51.80" y="609.20" font-size="12.4" fill="#262626" text-anchor="end">4</text>
<text x="51.80" y="596.70" font-size="12.4" fill="#262626" text-anchor="end">6</text>
<text x="51.80" y="584.20" font-size="12.4" fill="#262626" text-anchor="end">8</text>
<text transform="translate(27.20,605.50) rotate(-90)" font-size="12.64" fill="#262626" text-anchor="middle">Achtel</text>
<text transform="translate(719.60,605.50) rotate(-90)" font-size="12.2" fill="#262626" text-anchor="middle">Wolken</text>
<rect x="56" y="651" width="647" height="49" fill="#fff"/>
<rect x="56" y="651" width="107.5" height="49" fill="#f9f9f9"/>
<rect x="595.5" y="651" width="107.5" height="49" fill="#f9f9f9"/>
<rect x="70.5" y="651" width="11.9" height="49" fill="#e9e9e9"/>
<rect x="82.4" y="651" width="14.9" height="49" fill="#dedede"/>
<rect x="97.3" y="651" width="20.0" height="49" fill="#d2d2d2"/>
<rect x="117.3" y="651" width="70.1" height="49" fill="#c6c6c6"/>
<rect x="187.4" y="651" width="19.2" height="49" fill="#d2d2d2"/>
<rect x="206.6" y="651" width="15.1" height="49" fill="#dedede"/>
<rect x="221.7" y="651" width="12.9" height="49" fill="#e9e9e9"/>
<rect x="503.4" y="651" width="10.8" height="49" fill="#e9e9e9"/>
<rect x="514.2" y="651" width="15.8" height="49" fill="#dedede"/>
<rect x="530" y="651" width="20.4" height="49" fill="#d2d2d2"/>
<rect x="550.4" y="651" width="67.8" height="49" fill="#c6c6c6"/>
<rect x="618.2" y="651" width="19.7" height="49" fill="#d2d2d2"/>
<rect x="637.9" y="651" width="15.7" height="49" fill="#dedede"/>
<rect x="653.6" y="651" width="12.2" height="49" fill="#e9e9e9"/>
<path d="M73.5 651V700M91.5 651V700M127.5 651V700M145.5 651V700M181.5 651V700M199.5 651V700M235.5 651V700M253.5 651V700M289.5 651V700M307.5 651V700M343.5 651V700M361.5 651V700M397.5 651V700M415.5 651V700M451.5 651V700M469.5 651V700M505.5 651V700M523.5 651V700M559.5 651V700M577.5 651V700M613.5 651V700M631.5 651V700M667.5 651V700M685.5 651V700" stroke="#000" stroke-width="1" stroke-opacity="0.04" fill="none"/>
<path d="M109.5 651V700M163.5 651V700M217.5 651V700M271.5 651V700M325.5 651V700M379.5 651V700M433.5 651V700M487.5 651V700M541.5 651V700M595.5 651V700M649.5 651V700" stroke="#000" stroke-width="1.2" stroke-opacity="0.1" fill="none"/>
<path d="M56 695.5H703M56 690.5H703M56 685.5H703M56 680.5H703M56 670.5H703M56 665.5H703M56 660.5H703M56 655.5H703" stroke="#000" stroke-width="1" stroke-opacity="0.04" fill="none"/>
<path d="M56 675.5H703" stroke="#000" stroke-width="1" stroke-opacity="0.13" fill="none"/>
<path d="M338.2 651V700" stroke="#ffd2d2" stroke-width="1.25" fill="none"/>
<rect x="55.5" y="660.5" width="3.0" height="40.0" fill="#ffd700"/>
<path d="M55.5 660.5V700M58.5 660.5V700" stroke="#ffbe20" stroke-width="1" fill="none"/>
<rect x="241.5" y="670.5" width="3.0" height="30.0" fill="#ffd700"/>
<path d="M241.5 670.5V700M244.5 670.5V700" stroke="#ffbe20" stroke-width="1" fill="none"/>
<rect x="244.5" y="650.5" width="78.0" height="50.0" fill="#ffd700"/>
<path d="M244.5 650.5V700M247.5 650.5V700M250.5 650.5V700M253.5 650.5V700M256.5 650.5V700M259.5 650.5V700M262.5 650.5V700M265.5 650.5V700M268.5 650.5V700M271.5 650.5V700M274.5 650.5V700M277.5 650.5V700M280.5 650.5V700M283.5 650.5V700M286.5 650.5V700M289.5 650.5V700M292.5 650.5V700M295.5 650.5V700M298.5 650.5V700M301.5 650.5V700M304.5 650.5V700M307.5 650.5V700M310.5 650.5V700M313.5 650.5V700M316.5 650.5V700M319.5 650.5V700M322.5 650.5V700" stroke="#ffbe20" stroke-width="1" fill="none"/>
<path d="M70.5 651V700" stroke="#f00" stroke-width="1.1" fill="none"/>
<path d="M234.6 651V700" stroke="#f00" stroke-width="1.1" fill="none"/>
<path d="M503.4 651V700" stroke="#f00" stroke-width="1.1" fill="none"/>
<path d="M665.8 651V700" stroke="#f00" stroke-width="1.1" fill="none"/>
<text x="58.70" y="663.20" font-size="11.1" fill="#5e5e5e" text-anchor="start">Sd24</text>
<text x="592.20" y="663.20" font-size="11.1" fill="#5e5e5e" text-anchor="end">4h 27m</text>
<text x="151.50" y="678.60" font-size="12.5" fill="#000" text-anchor="middle">Nacht</text>
<text x="583.50" y="678.60" font-size="12.5" fill="#000" text-anchor="middle">Nacht</text>
<text x="72.50" y="696.20" font-size="8.85" fill="#f00" text-anchor="start">Untergang</text>
<text x="231.20" y="696.20" font-size="8.85" fill="#f00" text-anchor="end">Aufgang</text>
<text x="505.40" y="696.20" font-size="8.85" fill="#f00" text-anchor="start">Untergang</text>
<text x="662.40" y="696.20" font-size="8.85" fill="#f00" text-anchor="end">Aufgang</text>
<circle cx="324.0" cy="698" r="1.25" fill="#ff0000"/>
<circle cx="327.0" cy="698" r="1.25" fill="#ff0000"/>
<circle cx="330.0" cy="698" r="1.25" fill="#ff0000"/>
<circle cx="333.0" cy="698" r="1.25" fill="#ff0000"/>
<circle cx="336.0" cy="698" r="1.25" fill="#ff0000"/>
<rect x="55.5" y="650.5" width="648" height="50" fill="none" stroke="#000" stroke-width="1.2"/>
<path d="M55.5 700.5v4.0M55.5 650.5v-4.0M73.5 700.5v2.2M73.5 650.5v-2.2M91.5 700.5v2.2M91.5 650.5v-2.2M109.5 700.5v4.0M109.5 650.5v-4.0M127.5 700.5v2.2M127.5 650.5v-2.2M145.5 700.5v2.2M145.5 650.5v-2.2M163.5 700.5v4.0M163.5 650.5v-4.0M181.5 700.5v2.2M181.5 650.5v-2.2M199.5 700.5v2.2M199.5 650.5v-2.2M217.5 700.5v4.0M217.5 650.5v-4.0M235.5 700.5v2.2M235.5 650.5v-2.2M253.5 700.5v2.2M253.5 650.5v-2.2M271.5 700.5v4.0M271.5 650.5v-4.0M289.5 700.5v2.2M289.5 650.5v-2.2M307.5 700.5v2.2M307.5 650.5v-2.2M325.5 700.5v4.0M325.5 650.5v-4.0M343.5 700.5v2.2M343.5 650.5v-2.2M361.5 700.5v2.2M361.5 650.5v-2.2M379.5 700.5v4.0M379.5 650.5v-4.0M397.5 700.5v2.2M397.5 650.5v-2.2M415.5 700.5v2.2M415.5 650.5v-2.2M433.5 700.5v4.0M433.5 650.5v-4.0M451.5 700.5v2.2M451.5 650.5v-2.2M469.5 700.5v2.2M469.5 650.5v-2.2M487.5 700.5v4.0M487.5 650.5v-4.0M505.5 700.5v2.2M505.5 650.5v-2.2M523.5 700.5v2.2M523.5 650.5v-2.2M541.5 700.5v4.0M541.5 650.5v-4.0M559.5 700.5v2.2M559.5 650.5v-2.2M577.5 700.5v2.2M577.5 650.5v-2.2M595.5 700.5v4.0M595.5 650.5v-4.0M613.5 700.5v2.2M613.5 650.5v-2.2M631.5 700.5v2.2M631.5 650.5v-2.2M649.5 700.5v4.0M649.5 650.5v-4.0M667.5 700.5v2.2M667.5 650.5v-2.2M685.5 700.5v2.2M685.5 650.5v-2.2M703.5 700.5v4.0M703.5 650.5v-4.0" stroke="#000" stroke-width="1.1" fill="none"/>
<text x="55.50" y="714.20" font-size="12.4" fill="#262626" text-anchor="middle">18</text>
<text x="109.50" y="714.20" font-size="12.4" fill="#262626" text-anchor="middle">21</text>
<text x="163.50" y="714.20" font-size="12.4" fill="#262626" text-anchor="middle">0</text>
<text x="217.50" y="714.20" font-size="12.4" fill="#262626" text-anchor="middle">3</text>
<text x="271.50" y="714.20" font-size="12.4" fill="#262626" text-anchor="middle">6</text>
<text x="325.50" y="714.20" font-size="12.4" fill="#262626" text-anchor="middle">9</text>
<text x="379.50" y="714.20" font-size="12.4" fill="#262626" text-anchor="middle">12</text>
<text x="433.50" y="714.20" font-size="12.4" fill="#262626" text-anchor="middle">15</text>
<text x="487.50" y="714.20" font-size="12.4" fill="#262626" text-anchor="middle">18</text>
<text x="541.50" y="714.20" font-size="12.4" fill="#262626" text-anchor="middle">21</text>
<text x="595.50" y="714.20" font-size="12.4" fill="#262626" text-anchor="middle">0</text>
<text x="649.50" y="714.20" font-size="12.4" fill="#262626" text-anchor="middle">3</text>
<text x="703.50" y="714.20" font-size="12.4" fill="#262626" text-anchor="middle">6</text>
<text x="51.80" y="704.20" font-size="12.4" fill="#262626" text-anchor="end">0</text>
<text x="51.80" y="679.20" font-size="12.4" fill="#262626" text-anchor="end">5</text>
<text x="51.80" y="654.20" font-size="12.4" fill="#262626" text-anchor="end">10</text>
<text transform="translate(27.20,675.50) rotate(-90)" font-size="12.64" fill="#262626" text-anchor="middle">Minuten</text>
<text transform="translate(719.60,675.50) rotate(-90)" font-size="12.2" fill="#262626" text-anchor="middle">Sonne</text>
<rect x="56" y="721" width="647" height="129" fill="#fff"/>
<rect x="56" y="721" width="107.5" height="129" fill="#f9f9f9"/>
<rect x="595.5" y="721" width="107.5" height="129" fill="#f9f9f9"/>
<path d="M73.5 721V850M91.5 721V850M127.5 721V850M145.5 721V850M181.5 721V850M199.5 721V850M235.5 721V850M253.5 721V850M289.5 721V850M307.5 721V850M343.5 721V850M361.5 721V850M397.5 721V850M415.5 721V850M451.5 721V850M469.5 721V850M505.5 721V850M523.5 721V850M559.5 721V850M577.5 721V850M613.5 721V850M631.5 721V850M667.5 721V850M685.5 721V850" stroke="#f2f2f2" stroke-width="1" stroke-opacity="1" fill="none"/>
<path d="M109.5 721V850M163.5 721V850M217.5 721V850M271.5 721V850M325.5 721V850M379.5 721V850M433.5 721V850M487.5 721V850M541.5 721V850M595.5 721V850M649.5 721V850" stroke="#dcdcdc" stroke-width="1.2" stroke-opacity="1" fill="none"/>
<path d="M56 845.5H703M56 840.5H703M56 834.5H703M56 829.5H703M56 819.5H703M56 814.5H703M56 808.5H703M56 803.5H703M56 793.5H703M56 788.5H703M56 782.5H703M56 777.5H703M56 767.5H703M56 762.5H703M56 756.5H703M56 751.5H703M56 741.5H703M56 736.5H703M56 730.5H703M56 725.5H703" stroke="#f2f2f2" stroke-width="1" stroke-opacity="1" fill="none"/>
<path d="M56 824.5H703M56 798.5H703M56 772.5H703M56 746.5H703" stroke="#dfdfdf" stroke-width="1" stroke-opacity="1" fill="none"/>
<path d="M338.2 721V850" stroke="#ffd2d2" stroke-width="1.25" fill="none"/>
<text x="58.70" y="733.70" font-size="11.1" fill="#5e5e5e" text-anchor="start">Px</text>
<text x="58.70" y="746.70" font-size="11.1" fill="#5e5e5e" text-anchor="start">Pm</text>
<text x="58.70" y="759.70" font-size="11.1" fill="#5e5e5e" text-anchor="start">Pn</text>
<text x="592.20" y="733.70" font-size="11.1" fill="#5e5e5e" text-anchor="end">1032.5 hPa</text>
<text x="592.20" y="746.70" font-size="11.1" fill="#5e5e5e" text-anchor="end">1031.5 hPa</text>
<text x="592.20" y="759.70" font-size="11.1" fill="#5e5e5e" text-anchor="end">1030.3 hPa</text>
<path d="M55.6 809.2L62.7 807.3L69.4 805.8L73.3 804.2L80.0 803.3L87.7 802.3L95.4 801.3L103.1 800.2L110.8 799.6L114.6 799.4L116.9 800.0L120.4 799.0L128.1 798.7L135.8 797.7L143.5 796.9L149.2 796.5L156.9 796.3L164.6 796.2L166.5 795.6L170.4 796.3L175.2 795.8L178.1 796.3L183.8 795.2L189.6 794.2L195.8 793.3L203.5 792.5L211.2 792.1L220.8 792.1L228.5 792.1L234.2 791.5L241.9 790.8L247.7 789.2L253.5 788.3L261.2 787.5L268.8 787.1L276.5 786.3L284.2 786.0L290.0 785.6L297.7 785.6L301.5 786.2L304.4 785.0L307.3 784.4L310.2 785.4L313.1 786.3L321.7 786.3" stroke="#4169e1" stroke-width="1.2" stroke-opacity="1" fill="none" stroke-linejoin="round" stroke-linecap="round"/>
<text x="324.00" y="790.40" font-size="12" fill="#4169e1" text-anchor="start">1032.2</text>
<rect x="55.5" y="720.5" width="648" height="130" fill="none" stroke="#000" stroke-width="1.2"/>
<path d="M55.5 850.5v4.0M55.5 720.5v-4.0M73.5 850.5v2.2M73.5 720.5v-2.2M91.5 850.5v2.2M91.5 720.5v-2.2M109.5 850.5v4.0M109.5 720.5v-4.0M127.5 850.5v2.2M127.5 720.5v-2.2M145.5 850.5v2.2M145.5 720.5v-2.2M163.5 850.5v4.0M163.5 720.5v-4.0M181.5 850.5v2.2M181.5 720.5v-2.2M199.5 850.5v2.2M199.5 720.5v-2.2M217.5 850.5v4.0M217.5 720.5v-4.0M235.5 850.5v2.2M235.5 720.5v-2.2M253.5 850.5v2.2M253.5 720.5v-2.2M271.5 850.5v4.0M271.5 720.5v-4.0M289.5 850.5v2.2M289.5 720.5v-2.2M307.5 850.5v2.2M307.5 720.5v-2.2M325.5 850.5v4.0M325.5 720.5v-4.0M343.5 850.5v2.2M343.5 720.5v-2.2M361.5 850.5v2.2M361.5 720.5v-2.2M379.5 850.5v4.0M379.5 720.5v-4.0M397.5 850.5v2.2M397.5 720.5v-2.2M415.5 850.5v2.2M415.5 720.5v-2.2M433.5 850.5v4.0M433.5 720.5v-4.0M451.5 850.5v2.2M451.5 720.5v-2.2M469.5 850.5v2.2M469.5 720.5v-2.2M487.5 850.5v4.0M487.5 720.5v-4.0M505.5 850.5v2.2M505.5 720.5v-2.2M523.5 850.5v2.2M523.5 720.5v-2.2M541.5 850.5v4.0M541.5 720.5v-4.0M559.5 850.5v2.2M559.5 720.5v-2.2M577.5 850.5v2.2M577.5 720.5v-2.2M595.5 850.5v4.0M595.5 720.5v-4.0M613.5 850.5v2.2M613.5 720.5v-2.2M631.5 850.5v2.2M631.5 720.5v-2.2M649.5 850.5v4.0M649.5 720.5v-4.0M667.5 850.5v2.2M667.5 720.5v-2.2M685.5 850.5v2.2M685.5 720.5v-2.2M703.5 850.5v4.0M703.5 720.5v-4.0" stroke="#000" stroke-width="1.1" fill="none"/>
<text x="55.50" y="864.20" font-size="12.4" fill="#262626" text-anchor="middle">18</text>
<text x="109.50" y="864.20" font-size="12.4" fill="#262626" text-anchor="middle">21</text>
<text x="163.50" y="864.20" font-size="12.4" fill="#262626" text-anchor="middle">0</text>
<text x="217.50" y="864.20" font-size="12.4" fill="#262626" text-anchor="middle">3</text>
<text x="271.50" y="864.20" font-size="12.4" fill="#262626" text-anchor="middle">6</text>
<text x="325.50" y="864.20" font-size="12.4" fill="#262626" text-anchor="middle">9</text>
<text x="379.50" y="864.20" font-size="12.4" fill="#262626" text-anchor="middle">12</text>
<text x="433.50" y="864.20" font-size="12.4" fill="#262626" text-anchor="middle">15</text>
<text x="487.50" y="864.20" font-size="12.4" fill="#262626" text-anchor="middle">18</text>
<text x="541.50" y="864.20" font-size="12.4" fill="#262626" text-anchor="middle">21</text>
<text x="595.50" y="864.20" font-size="12.4" fill="#262626" text-anchor="middle">0</text>
<text x="649.50" y="864.20" font-size="12.4" fill="#262626" text-anchor="middle">3</text>
<text x="703.50" y="864.20" font-size="12.4" fill="#262626" text-anchor="middle">6</text>
<text x="51.80" y="854.20" font-size="12.4" fill="#262626" text-anchor="end">1020</text>
<text x="51.80" y="828.20" font-size="12.4" fill="#262626" text-anchor="end">1025</text>
<text x="51.80" y="802.20" font-size="12.4" fill="#262626" text-anchor="end">1030</text>
<text x="51.80" y="776.20" font-size="12.4" fill="#262626" text-anchor="end">1035</text>
<text x="51.80" y="750.20" font-size="12.4" fill="#262626" text-anchor="end">1040</text>
<text x="51.80" y="724.20" font-size="12.4" fill="#262626" text-anchor="end">1045</text>
<text transform="translate(19.80,785.50) rotate(-90)" font-size="12.64" fill="#262626" text-anchor="middle">hPa</text>
<text transform="translate(719.60,785.50) rotate(-90)" font-size="12.2" fill="#262626" text-anchor="middle">Luftdruck (NHN)</text>
<rect x="56" y="871" width="647" height="109" fill="#fff"/>
<rect x="56" y="871" width="107.5" height="109" fill="#f9f9f9"/>
<rect x="595.5" y="871" width="107.5" height="109" fill="#f9f9f9"/>
<path d="M73.5 871V980M91.5 871V980M127.5 871V980M145.5 871V980M181.5 871V980M199.5 871V980M235.5 871V980M253.5 871V980M289.5 871V980M307.5 871V980M343.5 871V980M361.5 871V980M397.5 871V980M415.5 871V980M451.5 871V980M469.5 871V980M505.5 871V980M523.5 871V980M559.5 871V980M577.5 871V980M613.5 871V980M631.5 871V980M667.5 871V980M685.5 871V980" stroke="#f2f2f2" stroke-width="1" stroke-opacity="1" fill="none"/>
<path d="M109.5 871V980M163.5 871V980M217.5 871V980M271.5 871V980M325.5 871V980M379.5 871V980M433.5 871V980M487.5 871V980M541.5 871V980M595.5 871V980M649.5 871V980" stroke="#dcdcdc" stroke-width="1.2" stroke-opacity="1" fill="none"/>
<path d="M56 975.5H703M56 962.5H703M56 950.5H703M56 937.5H703M56 925.5H703M56 913.5H703M56 900.5H703M56 888.5H703M56 876.5H703" stroke="#dfdfdf" stroke-width="1" stroke-opacity="1" fill="none"/>
<path d="M338.2 871V980" stroke="#ffd2d2" stroke-width="1.25" fill="none"/>
<text x="592.20" y="940.20" font-size="11.1" fill="#5e5e5e" text-anchor="end">13.0 %</text>
<text x="592.20" y="952.40" font-size="11.1" fill="#5e5e5e" text-anchor="end">77.8 %</text>
<text x="592.20" y="964.60" font-size="11.1" fill="#5e5e5e" text-anchor="end">9.3 %</text>
<circle cx="54.9" cy="949.9" r="1.3" fill="#3a62e2"/>
<circle cx="57.9" cy="949.9" r="1.3" fill="#3a62e2"/>
<circle cx="60.9" cy="947.1" r="1.3" fill="#3a62e2"/>
<circle cx="63.9" cy="947.1" r="1.3" fill="#3a62e2"/>
<circle cx="66.9" cy="949.9" r="1.3" fill="#3a62e2"/>
<circle cx="69.9" cy="949.9" r="1.3" fill="#3a62e2"/>
<circle cx="72.9" cy="949.9" r="1.3" fill="#3a62e2"/>
<circle cx="75.9" cy="949.9" r="1.3" fill="#3a62e2"/>
<circle cx="78.9" cy="949.9" r="1.3" fill="#3a62e2"/>
<circle cx="81.9" cy="949.9" r="1.3" fill="#3a62e2"/>
<circle cx="84.9" cy="949.9" r="1.3" fill="#3a62e2"/>
<circle cx="87.9" cy="952.6" r="1.3" fill="#3a62e2"/>
<circle cx="90.9" cy="949.9" r="1.3" fill="#3a62e2"/>
<circle cx="93.9" cy="947.1" r="1.3" fill="#3a62e2"/>
<circle cx="96.9" cy="947.1" r="1.3" fill="#3a62e2"/>
<circle cx="99.9" cy="949.9" r="1.3" fill="#3a62e2"/>
<circle cx="102.9" cy="949.9" r="1.3" fill="#3a62e2"/>
<circle cx="105.9" cy="949.9" r="1.3" fill="#3a62e2"/>
<circle cx="108.9" cy="949.9" r="1.3" fill="#3a62e2"/>
<circle cx="111.9" cy="949.9" r="1.3" fill="#3a62e2"/>
<circle cx="114.9" cy="949.9" r="1.3" fill="#3a62e2"/>
<circle cx="117.9" cy="949.9" r="1.3" fill="#3a62e2"/>
<circle cx="120.9" cy="949.9" r="1.3" fill="#3a62e2"/>
<circle cx="123.9" cy="952.6" r="1.3" fill="#3a62e2"/>
<circle cx="126.9" cy="952.6" r="1.3" fill="#3a62e2"/>
<circle cx="129.9" cy="949.9" r="1.3" fill="#3a62e2"/>
<circle cx="132.9" cy="949.9" r="1.3" fill="#3a62e2"/>
<circle cx="135.9" cy="949.9" r="1.3" fill="#3a62e2"/>
<circle cx="138.9" cy="952.6" r="1.3" fill="#3a62e2"/>
<circle cx="141.9" cy="952.6" r="1.3" fill="#3a62e2"/>
<circle cx="144.9" cy="949.9" r="1.3" fill="#3a62e2"/>
<circle cx="147.9" cy="949.9" r="1.3" fill="#3a62e2"/>
<circle cx="150.9" cy="949.9" r="1.3" fill="#3a62e2"/>
<circle cx="153.9" cy="949.9" r="1.3" fill="#3a62e2"/>
<circle cx="156.9" cy="952.6" r="1.3" fill="#3a62e2"/>
<circle cx="159.9" cy="952.6" r="1.3" fill="#3a62e2"/>
<circle cx="162.9" cy="952.6" r="1.3" fill="#3a62e2"/>
<circle cx="165.9" cy="952.6" r="1.3" fill="#3a62e2"/>
<circle cx="168.9" cy="952.6" r="1.3" fill="#3a62e2"/>
<circle cx="171.9" cy="952.6" r="1.3" fill="#3a62e2"/>
<circle cx="174.9" cy="952.6" r="1.3" fill="#3a62e2"/>
<circle cx="177.9" cy="955.4" r="1.3" fill="#3a62e2"/>
<circle cx="180.9" cy="955.4" r="1.3" fill="#3a62e2"/>
<circle cx="183.9" cy="955.4" r="1.3" fill="#3a62e2"/>
<circle cx="186.9" cy="955.4" r="1.3" fill="#3a62e2"/>
<circle cx="189.9" cy="958.1" r="1.3" fill="#3a62e2"/>
<circle cx="192.9" cy="958.1" r="1.3" fill="#3a62e2"/>
<circle cx="195.9" cy="955.4" r="1.3" fill="#3a62e2"/>
<circle cx="198.9" cy="955.4" r="1.3" fill="#3a62e2"/>
<circle cx="201.9" cy="958.1" r="1.3" fill="#3a62e2"/>
<circle cx="204.9" cy="958.1" r="1.3" fill="#3a62e2"/>
<circle cx="207.9" cy="955.4" r="1.3" fill="#3a62e2"/>
<circle cx="210.9" cy="955.4" r="1.3" fill="#3a62e2"/>
<circle cx="213.9" cy="955.4" r="1.3" fill="#3a62e2"/>
<circle cx="216.9" cy="955.4" r="1.3" fill="#3a62e2"/>
<circle cx="219.9" cy="955.4" r="1.3" fill="#3a62e2"/>
<circle cx="222.9" cy="952.6" r="1.3" fill="#3a62e2"/>
<circle cx="225.9" cy="952.6" r="1.3" fill="#3a62e2"/>
<circle cx="228.9" cy="952.6" r="1.3" fill="#3a62e2"/>
<circle cx="231.9" cy="952.6" r="1.3" fill="#3a62e2"/>
<circle cx="234.9" cy="952.6" r="1.3" fill="#3a62e2"/>
<circle cx="237.9" cy="952.6" r="1.3" fill="#3a62e2"/>
<circle cx="240.9" cy="952.6" r="1.3" fill="#3a62e2"/>
<circle cx="243.9" cy="958.1" r="1.3" fill="#3a62e2"/>
<circle cx="246.9" cy="955.4" r="1.3" fill="#3a62e2"/>
<circle cx="249.9" cy="955.4" r="1.3" fill="#3a62e2"/>
<circle cx="252.9" cy="952.6" r="1.3" fill="#3a62e2"/>
<circle cx="255.9" cy="955.4" r="1.3" fill="#3a62e2"/>
<circle cx="258.9" cy="952.6" r="1.3" fill="#3a62e2"/>
<circle cx="261.9" cy="949.9" r="1.3" fill="#3a62e2"/>
<circle cx="264.9" cy="949.9" r="1.3" fill="#3a62e2"/>
<circle cx="267.9" cy="949.9" r="1.3" fill="#3a62e2"/>
<circle cx="270.9" cy="947.1" r="1.3" fill="#3a62e2"/>
<circle cx="273.9" cy="944.4" r="1.3" fill="#3a62e2"/>
<circle cx="276.9" cy="947.1" r="1.3" fill="#3a62e2"/>
<circle cx="279.9" cy="947.1" r="1.3" fill="#3a62e2"/>
<circle cx="282.9" cy="947.1" r="1.3" fill="#3a62e2"/>
<circle cx="285.9" cy="944.4" r="1.3" fill="#3a62e2"/>
<circle cx="288.9" cy="944.4" r="1.3" fill="#3a62e2"/>
<circle cx="291.9" cy="944.4" r="1.3" fill="#3a62e2"/>
<circle cx="294.9" cy="944.4" r="1.3" fill="#3a62e2"/>
<circle cx="297.9" cy="944.4" r="1.3" fill="#3a62e2"/>
<circle cx="300.9" cy="938.9" r="1.3" fill="#3a62e2"/>
<circle cx="303.9" cy="938.9" r="1.3" fill="#3a62e2"/>
<circle cx="306.9" cy="941.6" r="1.3" fill="#3a62e2"/>
<circle cx="309.9" cy="938.9" r="1.3" fill="#3a62e2"/>
<circle cx="312.9" cy="944.4" r="1.3" fill="#3a62e2"/>
<circle cx="315.9" cy="938.9" r="1.3" fill="#3a62e2"/>
<circle cx="318.9" cy="941.6" r="1.3" fill="#3a62e2"/>
<circle cx="321.9" cy="938.9" r="1.3" fill="#3a62e2"/>
<text x="324.00" y="942.60" font-size="12" fill="#4169e1" text-anchor="start">130</text>
<circle cx="324.0" cy="978" r="1.25" fill="#ff0000"/>
<circle cx="327.0" cy="978" r="1.25" fill="#ff0000"/>
<circle cx="330.0" cy="978" r="1.25" fill="#ff0000"/>
<circle cx="333.0" cy="978" r="1.25" fill="#ff0000"/>
<circle cx="336.0" cy="978" r="1.25" fill="#ff0000"/>
<rect x="55.5" y="870.5" width="648" height="110" fill="none" stroke="#000" stroke-width="1.2"/>
<path d="M55.5 980.5v4.0M55.5 870.5v-4.0M73.5 980.5v2.2M73.5 870.5v-2.2M91.5 980.5v2.2M91.5 870.5v-2.2M109.5 980.5v4.0M109.5 870.5v-4.0M127.5 980.5v2.2M127.5 870.5v-2.2M145.5 980.5v2.2M145.5 870.5v-2.2M163.5 980.5v4.0M163.5 870.5v-4.0M181.5 980.5v2.2M181.5 870.5v-2.2M199.5 980.5v2.2M199.5 870.5v-2.2M217.5 980.5v4.0M217.5 870.5v-4.0M235.5 980.5v2.2M235.5 870.5v-2.2M253.5 980.5v2.2M253.5 870.5v-2.2M271.5 980.5v4.0M271.5 870.5v-4.0M289.5 980.5v2.2M289.5 870.5v-2.2M307.5 980.5v2.2M307.5 870.5v-2.2M325.5 980.5v4.0M325.5 870.5v-4.0M343.5 980.5v2.2M343.5 870.5v-2.2M361.5 980.5v2.2M361.5 870.5v-2.2M379.5 980.5v4.0M379.5 870.5v-4.0M397.5 980.5v2.2M397.5 870.5v-2.2M415.5 980.5v2.2M415.5 870.5v-2.2M433.5 980.5v4.0M433.5 870.5v-4.0M451.5 980.5v2.2M451.5 870.5v-2.2M469.5 980.5v2.2M469.5 870.5v-2.2M487.5 980.5v4.0M487.5 870.5v-4.0M505.5 980.5v2.2M505.5 870.5v-2.2M523.5 980.5v2.2M523.5 870.5v-2.2M541.5 980.5v4.0M541.5 870.5v-4.0M559.5 980.5v2.2M559.5 870.5v-2.2M577.5 980.5v2.2M577.5 870.5v-2.2M595.5 980.5v4.0M595.5 870.5v-4.0M613.5 980.5v2.2M613.5 870.5v-2.2M631.5 980.5v2.2M631.5 870.5v-2.2M649.5 980.5v4.0M649.5 870.5v-4.0M667.5 980.5v2.2M667.5 870.5v-2.2M685.5 980.5v2.2M685.5 870.5v-2.2M703.5 980.5v4.0M703.5 870.5v-4.0" stroke="#000" stroke-width="1.1" fill="none"/>
<text x="55.50" y="994.20" font-size="12.4" fill="#262626" text-anchor="middle">18</text>
<text x="109.50" y="994.20" font-size="12.4" fill="#262626" text-anchor="middle">21</text>
<text x="163.50" y="994.20" font-size="12.4" fill="#262626" text-anchor="middle">0</text>
<text x="217.50" y="994.20" font-size="12.4" fill="#262626" text-anchor="middle">3</text>
<text x="271.50" y="994.20" font-size="12.4" fill="#262626" text-anchor="middle">6</text>
<text x="325.50" y="994.20" font-size="12.4" fill="#262626" text-anchor="middle">9</text>
<text x="379.50" y="994.20" font-size="12.4" fill="#262626" text-anchor="middle">12</text>
<text x="433.50" y="994.20" font-size="12.4" fill="#262626" text-anchor="middle">15</text>
<text x="487.50" y="994.20" font-size="12.4" fill="#262626" text-anchor="middle">18</text>
<text x="541.50" y="994.20" font-size="12.4" fill="#262626" text-anchor="middle">21</text>
<text x="595.50" y="994.20" font-size="12.4" fill="#262626" text-anchor="middle">0</text>
<text x="649.50" y="994.20" font-size="12.4" fill="#262626" text-anchor="middle">3</text>
<text x="703.50" y="994.20" font-size="12.4" fill="#262626" text-anchor="middle">6</text>
<text x="51.50" y="978.40" font-size="12.4" fill="#262626" text-anchor="end">still</text>
<text x="51.50" y="966.02" font-size="12.4" fill="#262626" text-anchor="end">NO</text>
<text x="51.50" y="953.65" font-size="12.4" fill="#262626" text-anchor="end">O</text>
<text x="51.50" y="941.27" font-size="12.4" fill="#262626" text-anchor="end">SO</text>
<text x="51.50" y="928.90" font-size="12.4" fill="#262626" text-anchor="end">S</text>
<text x="51.50" y="916.52" font-size="12.4" fill="#262626" text-anchor="end">SW</text>
<text x="51.50" y="904.15" font-size="12.4" fill="#262626" text-anchor="end">W</text>
<text x="51.50" y="891.77" font-size="12.4" fill="#262626" text-anchor="end">NW</text>
<text x="51.50" y="879.40" font-size="12.4" fill="#262626" text-anchor="end">N</text>
<text transform="translate(19.20,925.50) rotate(-90)" font-size="12.64" fill="#262626" text-anchor="middle">Richtung</text>
<text transform="translate(719.60,925.50) rotate(-90)" font-size="12.2" fill="#262626" text-anchor="middle">Windrichtung</text>
<rect x="56" y="1135.74" width="647" height="4.76" fill="#fbfdfe"/>
<rect x="56" y="1124.37" width="647" height="11.37" fill="#f2fbfd"/>
<rect x="56" y="1106.23" width="647" height="18.14" fill="#effefa"/>
<rect x="56" y="1085.06" width="647" height="21.17" fill="#ecfdf2"/>
<rect x="56" y="1059.86" width="647" height="25.20" fill="#e8fce6"/>
<rect x="56" y="1031.58" width="647" height="28.28" fill="#eafbdc"/>
<rect x="56" y="1000.50" width="647" height="31.08" fill="#f1fbdc"/>
<path d="M56 1135.74H703" stroke="#d2ecf2" stroke-width="1" fill="none"/>
<path d="M56 1124.37H703" stroke="#c6ecea" stroke-width="1" fill="none"/>
<path d="M56 1106.23H703" stroke="#c2ecdc" stroke-width="1" fill="none"/>
<path d="M56 1085.06H703" stroke="#c4eaca" stroke-width="1" fill="none"/>
<path d="M56 1059.86H703" stroke="#cbe8bc" stroke-width="1" fill="none"/>
<path d="M56 1031.58H703" stroke="#d9ecbc" stroke-width="1" fill="none"/>
<path d="M73.5 1001V1140M91.5 1001V1140M127.5 1001V1140M145.5 1001V1140M181.5 1001V1140M199.5 1001V1140M235.5 1001V1140M253.5 1001V1140M289.5 1001V1140M307.5 1001V1140M343.5 1001V1140M361.5 1001V1140M397.5 1001V1140M415.5 1001V1140M451.5 1001V1140M469.5 1001V1140M505.5 1001V1140M523.5 1001V1140M559.5 1001V1140M577.5 1001V1140M613.5 1001V1140M631.5 1001V1140M667.5 1001V1140M685.5 1001V1140" stroke="#1a3a1a" stroke-width="1" stroke-opacity="0.055" fill="none"/>
<path d="M109.5 1001V1140M163.5 1001V1140M217.5 1001V1140M271.5 1001V1140M325.5 1001V1140M379.5 1001V1140M433.5 1001V1140M487.5 1001V1140M541.5 1001V1140M595.5 1001V1140M649.5 1001V1140" stroke="#1a3a1a" stroke-width="1.2" stroke-opacity="0.16" fill="none"/>
<text x="136.30" y="1134.16" font-size="13.4" fill="#c9ecf6" text-anchor="middle" font-weight="bold">1</text>
<text x="136.30" y="1119.40" font-size="13.4" fill="#c4f2ea" text-anchor="middle" font-weight="bold">2</text>
<text x="136.30" y="1099.74" font-size="13.4" fill="#c4f2dc" text-anchor="middle" font-weight="bold">3</text>
<text x="136.30" y="1076.56" font-size="13.4" fill="#c8f0c8" text-anchor="middle" font-weight="bold">4</text>
<text x="136.30" y="1049.82" font-size="13.4" fill="#d0ecc0" text-anchor="middle" font-weight="bold">5</text>
<text x="136.30" y="1020.14" font-size="13.4" fill="#dcebc0" text-anchor="middle" font-weight="bold">6</text>
<text x="298.30" y="1134.16" font-size="13.4" fill="#c9ecf6" text-anchor="middle" font-weight="bold">1</text>
<text x="298.30" y="1119.40" font-size="13.4" fill="#c4f2ea" text-anchor="middle" font-weight="bold">2</text>
<text x="298.30" y="1099.74" font-size="13.4" fill="#c4f2dc" text-anchor="middle" font-weight="bold">3</text>
<text x="298.30" y="1076.56" font-size="13.4" fill="#c8f0c8" text-anchor="middle" font-weight="bold">4</text>
<text x="298.30" y="1049.82" font-size="13.4" fill="#d0ecc0" text-anchor="middle" font-weight="bold">5</text>
<text x="298.30" y="1020.14" font-size="13.4" fill="#dcebc0" text-anchor="middle" font-weight="bold">6</text>
<text x="460.30" y="1134.16" font-size="13.4" fill="#c9ecf6" text-anchor="middle" font-weight="bold">1</text>
<text x="460.30" y="1119.40" font-size="13.4" fill="#c4f2ea" text-anchor="middle" font-weight="bold">2</text>
<text x="460.30" y="1099.74" font-size="13.4" fill="#c4f2dc" text-anchor="middle" font-weight="bold">3</text>
<text x="460.30" y="1076.56" font-size="13.4" fill="#c8f0c8" text-anchor="middle" font-weight="bold">4</text>
<text x="460.30" y="1049.82" font-size="13.4" fill="#d0ecc0" text-anchor="middle" font-weight="bold">5</text>
<text x="460.30" y="1020.14" font-size="13.4" fill="#dcebc0" text-anchor="middle" font-weight="bold">6</text>
<text x="622.30" y="1134.16" font-size="13.4" fill="#c9ecf6" text-anchor="middle" font-weight="bold">1</text>
<text x="622.30" y="1119.40" font-size="13.4" fill="#c4f2ea" text-anchor="middle" font-weight="bold">2</text>
<text x="622.30" y="1099.74" font-size="13.4" fill="#c4f2dc" text-anchor="middle" font-weight="bold">3</text>
<text x="622.30" y="1076.56" font-size="13.4" fill="#c8f0c8" text-anchor="middle" font-weight="bold">4</text>
<text x="622.30" y="1049.82" font-size="13.4" fill="#d0ecc0" text-anchor="middle" font-weight="bold">5</text>
<text x="622.30" y="1020.14" font-size="13.4" fill="#dcebc0" text-anchor="middle" font-weight="bold">6</text>
<path d="M338.2 1001V1140" stroke="#ffd2d2" stroke-width="1.25" fill="none"/>
<text x="58.70" y="1013.70" font-size="11.1" fill="#c71585" text-anchor="start">Fx</text>
<text x="58.70" y="1026.70" font-size="11.1" fill="#555" text-anchor="start">Fmx</text>
<text x="58.70" y="1039.70" font-size="11.1" fill="#e0405a" text-anchor="start">Fm</text>
<text x="58.70" y="1052.70" font-size="11.1" fill="#ff7f50" text-anchor="start">Fn</text>
<text x="592.20" y="1013.70" font-size="11.1" fill="#555" text-anchor="end">35.3 km/h</text>
<text x="592.20" y="1026.70" font-size="11.1" fill="#555" text-anchor="end">25.2 km/h</text>
<text x="592.20" y="1039.70" font-size="11.1" fill="#555" text-anchor="end">9.2 km/h</text>
<text x="592.20" y="1052.70" font-size="11.1" fill="#555" text-anchor="end">0.0 km/h</text>
<path d="M55.5 1117.3L58.4 1119.0L60.8 1122.4L63.9 1119.2L66.7 1121.0L70.1 1123.8L72.9 1126.5L75.6 1122.4L79.0 1118.0L82.5 1120.3L84.9 1121.7L88.0 1120.3L91.0 1119.0L94.1 1118.7L96.9 1115.1L99.6 1113.9L103.1 1117.3L105.8 1119.6L109.7 1119.6L112.0 1118.0L115.0 1123.5L117.9 1119.6L120.9 1119.6L124.0 1120.3L127.1 1118.7L132.9 1118.7L144.3 1118.7L148.1 1120.3L150.0 1120.1L153.4 1119.6L156.9 1121.7L159.9 1122.7L163.0 1122.7L166.2 1122.4L169.2 1119.6L172.0 1119.6L175.4 1122.7L178.2 1122.7L181.3 1119.6L183.7 1120.3L186.8 1126.9L189.8 1131.3L192.9 1133.4L196.0 1136.1L199.2 1139.3L202.2 1138.9L204.9 1136.8L207.7 1134.1L210.4 1135.2L213.9 1132.0L217.0 1136.5L220.1 1135.7L222.8 1135.4L225.5 1134.8L229.0 1126.5L232.1 1127.9L234.9 1129.7L237.9 1129.9L240.0 1132.3L243.8 1133.7L246.9 1132.3L249.9 1131.9L253.0 1130.0L256.2 1128.6L259.2 1129.2L262.0 1127.8L265.0 1127.8L268.2 1124.8L271.3 1124.5L273.7 1124.1L277.1 1114.9L280.1 1117.9L283.3 1117.9L286.0 1123.4L288.8 1125.2L291.9 1116.3L294.9 1115.9L297.7 1123.8L300.4 1116.5L303.9 1123.8L306.9 1109.7L310.1 1111.0L312.8 1113.8L316.0 1108.3L319.0 1103.5L322.0 1090.4" stroke="#ff7f50" stroke-width="1.1" stroke-opacity="1" fill="none" stroke-linejoin="round" stroke-linecap="round"/>
<path d="M55.5 1101.8L57.5 1107.3L60.5 1110.0L63.9 1106.9L66.7 1110.0L70.1 1115.5L72.9 1118.3L75.6 1113.5L79.0 1111.4L82.5 1111.0L84.9 1109.6L88.0 1112.1L91.0 1111.0L94.1 1110.0L96.9 1106.9L99.6 1106.9L103.1 1109.3L106.5 1111.8L109.9 1112.4L114.8 1113.5L118.2 1110.4L120.9 1108.7L124.0 1109.1L126.7 1107.7L129.9 1109.6L132.9 1110.4L135.9 1109.6L138.8 1110.4L141.8 1108.7L145.0 1109.3L148.1 1108.7L150.0 1108.0L153.4 1107.7L156.9 1110.0L159.9 1112.4L163.0 1113.5L165.8 1113.5L169.2 1109.3L172.0 1108.7L175.4 1110.7L178.2 1111.4L181.3 1110.0L184.3 1113.5L187.4 1119.0L189.8 1124.2L192.9 1124.7L196.0 1129.3L199.2 1136.1L202.2 1135.2L204.9 1134.1L207.7 1131.6L211.1 1127.9L213.9 1125.1L217.0 1129.9L220.1 1131.6L222.8 1129.9L226.2 1123.8L229.0 1120.1L232.1 1121.4L234.9 1121.7L237.9 1122.8L240.0 1125.5L243.8 1128.6L246.9 1126.2L249.9 1124.1L253.0 1123.4L256.2 1121.3L259.2 1120.4L262.0 1119.6L265.0 1118.6L268.2 1115.9L271.3 1113.1L274.3 1110.4L277.1 1105.5L280.1 1106.9L283.3 1108.3L286.0 1109.4L288.8 1106.2L291.9 1102.8L294.9 1101.4L298.0 1102.1L300.9 1098.7L303.9 1095.2L306.9 1084.7L310.1 1087.0L313.1 1090.4L316.0 1084.3L319.0 1081.9L322.0 1070.5" stroke="#e0405a" stroke-width="1.1" stroke-opacity="1" fill="none" stroke-linejoin="round" stroke-linecap="round"/>
<path d="M55.5 1076.4L57.5 1091.5L60.5 1098.4L63.9 1095.6L66.0 1097.0L69.4 1104.5L72.9 1110.0L75.6 1099.7L79.0 1101.8L81.8 1104.1L84.9 1096.7L88.0 1101.1L94.1 1101.1L97.6 1098.6L101.0 1098.6L103.8 1100.4L107.2 1104.5L109.7 1107.6L112.0 1107.6L114.8 1105.5L118.2 1100.1L120.9 1097.0L124.0 1093.3L127.1 1095.6L129.9 1100.4L138.8 1100.4L141.8 1098.6L145.0 1102.2L148.1 1098.6L150.0 1098.4L154.1 1095.6L156.9 1097.0L159.9 1101.1L163.0 1102.5L165.8 1105.2L169.2 1100.4L172.7 1098.6L175.4 1098.6L178.2 1100.4L180.9 1101.1L183.7 1099.0L186.8 1107.3L189.8 1108.7L192.6 1112.8L196.0 1116.2L199.2 1129.3L201.5 1129.9L204.9 1129.9L207.7 1128.6L211.1 1119.0L214.3 1114.4L217.0 1114.8L220.1 1123.4L222.8 1121.7L226.2 1112.8L229.0 1110.0L232.1 1114.1L234.9 1115.5L237.9 1114.1L240.0 1116.8L243.8 1120.7L246.9 1116.5L249.9 1113.1L253.0 1114.5L256.2 1112.4L259.2 1110.4L262.0 1108.0L265.0 1110.4L268.2 1104.2L271.3 1100.1L274.3 1097.3L277.1 1096.6L280.1 1097.6L283.3 1098.3L286.0 1090.4L288.8 1093.2L291.9 1085.6L294.9 1087.0L298.0 1082.9L300.9 1082.2L303.9 1072.6L306.9 1063.7L310.1 1063.4L313.1 1054.7L316.0 1056.8L319.0 1047.2L322.0 1041.7" stroke="#c71585" stroke-width="1.15" stroke-opacity="1" fill="none" stroke-linejoin="round" stroke-linecap="round"/>
<text x="324.00" y="1038.40" font-size="12" fill="#c71585" text-anchor="start">35.3</text>
<text x="324.00" y="1074.40" font-size="12" fill="#e0405a" text-anchor="start">24.8</text>
<text x="324.00" y="1101.40" font-size="12" fill="#ff7f50" text-anchor="start">17.6</text>
<rect x="55.5" y="1000.5" width="648" height="140" fill="none" stroke="#000" stroke-width="1.2"/>
<path d="M55.5 1140.5v4.0M55.5 1000.5v-4.0M73.5 1140.5v2.2M73.5 1000.5v-2.2M91.5 1140.5v2.2M91.5 1000.5v-2.2M109.5 1140.5v4.0M109.5 1000.5v-4.0M127.5 1140.5v2.2M127.5 1000.5v-2.2M145.5 1140.5v2.2M145.5 1000.5v-2.2M163.5 1140.5v4.0M163.5 1000.5v-4.0M181.5 1140.5v2.2M181.5 1000.5v-2.2M199.5 1140.5v2.2M199.5 1000.5v-2.2M217.5 1140.5v4.0M217.5 1000.5v-4.0M235.5 1140.5v2.2M235.5 1000.5v-2.2M253.5 1140.5v2.2M253.5 1000.5v-2.2M271.5 1140.5v4.0M271.5 1000.5v-4.0M289.5 1140.5v2.2M289.5 1000.5v-2.2M307.5 1140.5v2.2M307.5 1000.5v-2.2M325.5 1140.5v4.0M325.5 1000.5v-4.0M343.5 1140.5v2.2M343.5 1000.5v-2.2M361.5 1140.5v2.2M361.5 1000.5v-2.2M379.5 1140.5v4.0M379.5 1000.5v-4.0M397.5 1140.5v2.2M397.5 1000.5v-2.2M415.5 1140.5v2.2M415.5 1000.5v-2.2M433.5 1140.5v4.0M433.5 1000.5v-4.0M451.5 1140.5v2.2M451.5 1000.5v-2.2M469.5 1140.5v2.2M469.5 1000.5v-2.2M487.5 1140.5v4.0M487.5 1000.5v-4.0M505.5 1140.5v2.2M505.5 1000.5v-2.2M523.5 1140.5v2.2M523.5 1000.5v-2.2M541.5 1140.5v4.0M541.5 1000.5v-4.0M559.5 1140.5v2.2M559.5 1000.5v-2.2M577.5 1140.5v2.2M577.5 1000.5v-2.2M595.5 1140.5v4.0M595.5 1000.5v-4.0M613.5 1140.5v2.2M613.5 1000.5v-2.2M631.5 1140.5v2.2M631.5 1000.5v-2.2M649.5 1140.5v4.0M649.5 1000.5v-4.0M667.5 1140.5v2.2M667.5 1000.5v-2.2M685.5 1140.5v2.2M685.5 1000.5v-2.2M703.5 1140.5v4.0M703.5 1000.5v-4.0" stroke="#000" stroke-width="1.1" fill="none"/>
<text x="55.50" y="1154.20" font-size="12.4" fill="#262626" text-anchor="middle">18</text>
<text x="109.50" y="1154.20" font-size="12.4" fill="#262626" text-anchor="middle">21</text>
<text x="163.50" y="1154.20" font-size="12.4" fill="#262626" text-anchor="middle">0</text>
<text x="217.50" y="1154.20" font-size="12.4" fill="#262626" text-anchor="middle">3</text>
<text x="271.50" y="1154.20" font-size="12.4" fill="#262626" text-anchor="middle">6</text>
<text x="325.50" y="1154.20" font-size="12.4" fill="#262626" text-anchor="middle">9</text>
<text x="379.50" y="1154.20" font-size="12.4" fill="#262626" text-anchor="middle">12</text>
<text x="433.50" y="1154.20" font-size="12.4" fill="#262626" text-anchor="middle">15</text>
<text x="487.50" y="1154.20" font-size="12.4" fill="#262626" text-anchor="middle">18</text>
<text x="541.50" y="1154.20" font-size="12.4" fill="#262626" text-anchor="middle">21</text>
<text x="595.50" y="1154.20" font-size="12.4" fill="#262626" text-anchor="middle">0</text>
<text x="649.50" y="1154.20" font-size="12.4" fill="#262626" text-anchor="middle">3</text>
<text x="703.50" y="1154.20" font-size="12.4" fill="#262626" text-anchor="middle">6</text>
<text x="51.80" y="1144.20" font-size="12.4" fill="#262626" text-anchor="end">0</text>
<text x="51.80" y="1116.20" font-size="12.4" fill="#262626" text-anchor="end">10</text>
<text x="51.80" y="1088.20" font-size="12.4" fill="#262626" text-anchor="end">20</text>
<text x="51.80" y="1060.20" font-size="12.4" fill="#262626" text-anchor="end">30</text>
<text x="51.80" y="1032.20" font-size="12.4" fill="#262626" text-anchor="end">40</text>
<text x="51.80" y="1004.20" font-size="12.4" fill="#262626" text-anchor="end">50</text>
<text transform="translate(27.00,1070.50) rotate(-90)" font-size="12.64" fill="#262626" text-anchor="middle">km/h</text>
<text transform="translate(719.60,1070.50) rotate(-90)" font-size="12.2" fill="#262626" text-anchor="middle">Windgeschwindigkeit</text>
</svg>
</body></html>
